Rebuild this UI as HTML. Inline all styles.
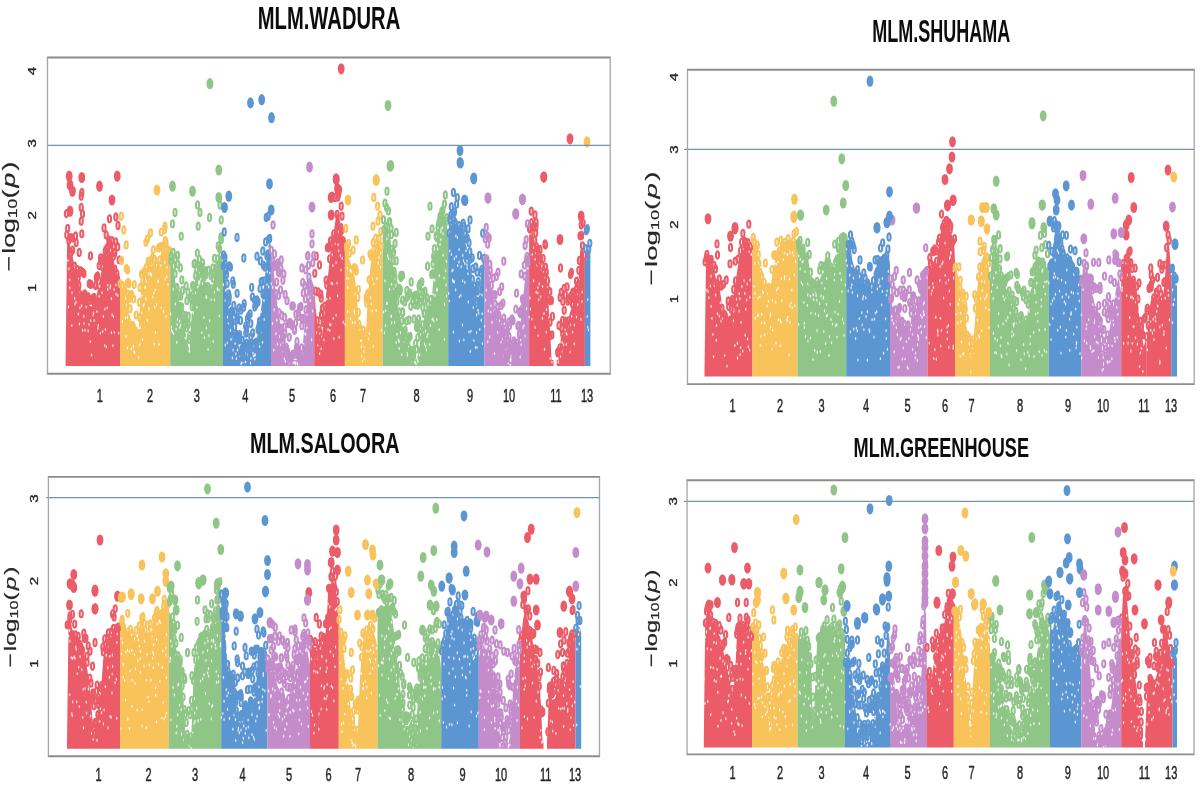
<!DOCTYPE html><html><head><meta charset="utf-8"><style>html,body{margin:0;padding:0;background:#fff;width:1200px;height:789px;overflow:hidden}svg{display:block;filter:blur(0.4px)}text{font-family:"Liberation Sans",sans-serif}</style></head><body>
<svg width="1200" height="789" viewBox="0 0 1200 789">
<defs><marker id="mr" markerUnits="userSpaceOnUse" markerWidth="12" markerHeight="14" refX="6" refY="7" overflow="visible"><ellipse cx="6" cy="7" rx="1.55" ry="3.60" fill="none" stroke="#eb5c68" stroke-width="2.1"/></marker><marker id="my" markerUnits="userSpaceOnUse" markerWidth="12" markerHeight="14" refX="6" refY="7" overflow="visible"><ellipse cx="6" cy="7" rx="1.55" ry="3.60" fill="none" stroke="#f7c35a" stroke-width="2.1"/></marker><marker id="mg" markerUnits="userSpaceOnUse" markerWidth="12" markerHeight="14" refX="6" refY="7" overflow="visible"><ellipse cx="6" cy="7" rx="1.55" ry="3.60" fill="none" stroke="#8fc687" stroke-width="2.1"/></marker><marker id="mb" markerUnits="userSpaceOnUse" markerWidth="12" markerHeight="14" refX="6" refY="7" overflow="visible"><ellipse cx="6" cy="7" rx="1.55" ry="3.60" fill="none" stroke="#5c96d2" stroke-width="2.1"/></marker><marker id="mp" markerUnits="userSpaceOnUse" markerWidth="12" markerHeight="14" refX="6" refY="7" overflow="visible"><ellipse cx="6" cy="7" rx="1.55" ry="3.60" fill="none" stroke="#c48ccb" stroke-width="2.1"/></marker><marker id="mw" markerUnits="userSpaceOnUse" markerWidth="4" markerHeight="6" refX="2" refY="3" overflow="visible"><ellipse cx="2" cy="3" rx="0.65" ry="1.6" fill="#fff" fill-opacity="0.85"/></marker></defs>
<path d="M65.6,366.0 L65.6,360.0 L67.1,241.5 L68.6,242.6 L70.1,245.0 L71.6,251.8 L73.1,258.8 L74.6,265.8 L76.1,273.0 L77.6,280.4 L79.1,285.5 L80.6,289.3 L82.1,293.1 L83.6,294.8 L85.1,296.1 L86.6,297.6 L88.1,301.6 L89.6,305.6 L91.1,308.3 L92.6,306.9 L94.1,305.5 L95.6,300.9 L97.1,293.1 L98.6,285.4 L100.1,278.0 L101.6,270.7 L103.1,265.0 L104.6,259.7 L106.1,256.2 L107.6,252.7 L109.1,250.3 L110.6,252.6 L112.1,254.9 L113.6,259.8 L115.1,268.6 L116.6,273.5 L118.1,274.7 L119.6,275.9 L120.0,276.2 L120.0,366.0 Z" fill="#eb5c68"/>
<path d="M120.0,366.0 L120.0,279.1 L121.5,284.7 L123.0,290.5 L124.5,296.9 L126.0,303.6 L127.5,309.5 L129.0,313.7 L130.5,318.0 L132.0,322.5 L133.5,327.0 L135.0,331.8 L136.5,338.6 L138.0,346.5 L139.5,316.3 L141.0,289.1 L142.5,281.6 L144.0,275.0 L145.5,271.4 L147.0,267.8 L148.5,264.7 L150.0,262.4 L151.5,260.0 L153.0,262.0 L154.5,266.8 L156.0,271.5 L157.5,267.9 L159.0,262.5 L160.5,255.6 L162.0,249.1 L163.5,245.7 L165.0,244.9 L166.5,251.7 L168.0,256.6 L169.5,258.3 L170.2,259.1 L170.2,366.0 Z" fill="#f7c35a"/>
<path d="M170.2,366.0 L170.2,257.7 L171.7,263.1 L173.2,268.9 L174.7,278.1 L176.2,287.0 L177.7,294.8 L179.2,301.7 L180.7,307.2 L182.2,312.9 L183.7,320.6 L185.2,329.9 L186.7,339.9 L188.2,346.0 L189.7,351.6 L191.2,321.7 L192.7,297.9 L194.2,286.2 L195.7,275.9 L197.2,268.6 L198.7,265.3 L200.2,267.7 L201.7,270.1 L203.2,274.1 L204.7,279.0 L206.2,284.0 L207.7,287.0 L209.2,289.6 L210.7,291.8 L212.2,286.7 L213.7,281.6 L215.2,275.5 L216.7,266.4 L218.2,256.8 L219.7,246.4 L221.2,249.0 L222.7,263.0 L223.1,267.7 L223.1,366.0 Z" fill="#8fc687"/>
<path d="M223.0,366.0 L223.0,270.2 L224.5,270.2 L226.0,282.5 L227.5,301.0 L229.0,310.3 L230.5,317.9 L232.0,325.7 L233.5,330.7 L235.0,335.8 L236.5,340.6 L238.0,344.3 L239.5,348.0 L241.0,351.9 L242.5,354.4 L244.0,356.4 L245.5,355.7 L247.0,353.7 L248.5,350.4 L250.0,350.0 L251.5,350.0 L253.0,349.6 L254.5,345.8 L256.0,342.1 L257.5,335.8 L259.0,324.0 L260.5,313.1 L262.0,302.4 L263.5,291.9 L265.0,276.5 L266.5,259.4 L268.0,248.9 L269.5,239.9 L271.0,246.2 L271.0,366.0 Z" fill="#5c96d2"/>
<path d="M271.0,366.0 L271.0,250.4 L272.5,261.5 L274.0,273.2 L275.5,287.0 L277.0,300.4 L278.5,311.5 L280.0,321.1 L281.5,328.4 L283.0,339.1 L284.5,352.1 L286.0,355.7 L287.5,357.7 L289.0,359.7 L290.5,360.0 L292.0,360.0 L293.5,360.0 L295.0,360.0 L296.5,360.0 L298.0,359.2 L299.5,357.2 L301.0,355.2 L302.5,347.9 L304.0,331.7 L305.5,317.1 L307.0,303.6 L308.5,290.9 L310.0,289.7 L311.5,289.9 L313.0,294.0 L314.2,297.4 L314.2,366.0 Z" fill="#c48ccb"/>
<path d="M314.2,366.0 L314.2,288.1 L315.7,307.7 L317.2,327.6 L318.7,337.2 L320.2,343.1 L321.7,337.9 L323.2,327.0 L324.7,309.6 L326.2,293.7 L327.7,278.7 L329.2,264.4 L330.7,250.6 L332.2,241.3 L333.7,233.0 L335.2,221.5 L336.7,211.9 L338.2,215.2 L339.7,219.7 L341.2,228.0 L342.7,234.9 L344.2,239.9 L344.9,242.2 L344.9,366.0 Z" fill="#eb5c68"/>
<path d="M344.9,366.0 L344.9,240.6 L346.4,249.0 L347.9,256.8 L349.4,260.2 L350.9,263.7 L352.4,267.1 L353.9,272.9 L355.4,281.8 L356.9,296.4 L358.4,316.5 L359.9,335.9 L361.4,357.3 L362.9,360.0 L364.4,360.0 L365.9,333.8 L367.4,304.4 L368.9,283.6 L370.4,266.8 L371.9,258.2 L373.4,251.0 L374.9,246.0 L376.4,242.8 L377.9,241.1 L379.4,243.7 L380.9,248.2 L382.4,252.7 L382.6,253.1 L382.6,366.0 Z" fill="#f7c35a"/>
<path d="M382.6,366.0 L382.6,235.9 L384.1,230.7 L385.6,226.3 L387.1,227.5 L388.6,228.7 L390.1,234.9 L391.6,251.0 L393.1,266.7 L394.6,282.2 L396.1,294.5 L397.6,305.1 L399.1,312.2 L400.6,318.4 L402.1,324.7 L403.6,329.6 L405.1,334.7 L406.6,340.4 L408.1,347.7 L409.6,354.7 L411.1,357.8 L412.6,359.7 L414.1,360.0 L415.6,360.0 L417.1,358.1 L418.6,352.2 L420.1,340.9 L421.6,330.5 L423.1,326.4 L424.6,323.2 L426.1,320.0 L427.6,316.9 L429.1,313.9 L430.6,307.7 L432.1,294.8 L433.6,279.1 L435.1,260.1 L436.6,244.0 L438.1,229.9 L439.6,221.2 L441.1,214.3 L442.6,214.4 L444.1,215.6 L445.6,217.4 L447.1,227.8 L448.2,235.9 L448.2,366.0 Z" fill="#8fc687"/>
<path d="M448.2,366.0 L448.2,237.7 L449.7,230.7 L451.2,224.7 L452.7,224.1 L454.2,223.6 L455.7,223.8 L457.2,225.5 L458.7,227.2 L460.2,229.9 L461.7,233.4 L463.2,236.9 L464.7,241.3 L466.2,246.0 L467.7,250.8 L469.2,258.0 L470.7,265.9 L472.2,277.2 L473.7,289.1 L475.2,301.4 L476.7,307.3 L478.2,303.0 L479.7,290.8 L481.2,273.2 L482.7,262.8 L484.2,255.4 L484.5,254.2 L484.5,366.0 Z" fill="#5c96d2"/>
<path d="M484.5,366.0 L484.5,250.7 L486.0,256.1 L487.5,262.4 L489.0,273.6 L490.5,284.1 L492.0,292.2 L493.5,300.5 L495.0,307.6 L496.5,313.5 L498.0,319.6 L499.5,326.0 L501.0,332.6 L502.5,339.5 L504.0,345.1 L505.5,350.7 L507.0,356.4 L508.5,359.3 L510.0,360.0 L511.5,360.0 L513.0,360.0 L514.5,357.7 L516.0,351.5 L517.5,344.0 L519.0,336.9 L520.5,322.7 L522.0,307.5 L523.5,293.5 L525.0,279.5 L526.5,267.1 L528.0,261.5 L529.1,257.4 L529.1,366.0 Z" fill="#c48ccb"/>
<path d="M529.1,366.0 L529.1,235.3 L530.6,231.9 L532.1,229.9 L533.6,236.7 L535.1,243.7 L536.6,250.7 L538.1,257.9 L539.6,265.1 L541.1,270.5 L542.6,274.2 L544.1,278.0 L545.6,281.8 L547.1,292.4 L548.6,304.8 L550.1,332.0 L551.6,360.0 L553.1,360.0 L553.6,360.0 L553.6,366.0 Z" fill="#eb5c68"/>
<path d="M556.7,366.0 L556.7,360.0 L558.2,360.0 L559.7,350.2 L561.2,335.9 L562.7,334.2 L564.2,332.5 L565.7,329.7 L567.2,323.4 L568.7,317.3 L570.2,312.1 L571.7,307.8 L573.2,303.6 L574.7,300.3 L576.2,297.6 L577.7,294.9 L579.2,268.0 L580.7,240.2 L582.2,247.1 L583.7,254.1 L584.9,259.6 L584.9,366.0 Z" fill="#eb5c68"/>
<path d="M584.9,366.0 L584.9,252.1 L586.4,250.4 L587.9,249.2 L589.4,250.9 L590.4,252.1 L590.4,366.0 Z" fill="#5c96d2"/>
<path d="M65.9 274.5 65.8 260.2 68.4 306.8 68.0 260.5 68.9 268.8 69.7 279.9 70.6 255.4 69.8 287.8 71.0 253.7 71.8 325.5 72.0 292.7 74.3 268.1 74.9 304.1 74.7 298.4 76.0 302.0 78.4 313.9 78.0 280.7 79.4 324.0 80.0 307.8 80.1 292.7 81.6 305.8 83.3 298.7 82.6 330.2 84.0 323.6 83.9 316.2 85.1 330.2 86.2 307.1 88.2 330.9 89.1 324.4 90.4 341.6 91.6 355.1 90.7 320.5 93.0 315.0 93.5 312.7 93.3 313.0 94.2 320.4 95.5 305.6 96.1 306.2 97.8 328.2 96.9 311.5 98.3 325.4 99.1 296.3 100.4 333.1 99.7 286.4 102.0 292.7 102.7 331.4 103.4 316.6 104.9 309.2 105.5 329.3 104.7 345.5 107.2 307.8 106.3 346.9 107.8 285.1 108.0 252.9 107.7 289.2 110.5 285.8 110.1 287.8 111.4 298.6 111.4 332.7 112.1 314.9 113.3 316.5 112.9 345.7 114.1 289.6 114.4 332.5 116.1 294.2 115.9 284.9 117.8 295.4 118.7 333.2 122.4 321.3 123.1 291.5 124.6 301.0 126.0 336.5 125.4 318.0 127.3 347.8 127.4 317.7 130.6 316.7 131.4 348.8 133.8 351.5 133.5 346.4 134.5 352.7 135.1 341.8 136.4 344.2 138.7 357.2 139.8 344.5 139.3 332.5 140.0 327.7 141.8 295.5 141.7 313.1 142.5 339.6 143.3 305.7 144.0 304.2 145.8 298.7 145.0 287.1 145.4 287.6 145.5 279.2 146.4 281.5 147.3 320.3 148.8 308.5 148.9 273.7 149.1 309.1 149.5 264.5 150.5 273.6 151.3 275.4 151.0 274.2 152.9 297.1 151.6 265.3 153.7 293.1 154.4 344.1 154.8 307.3 155.0 290.1 155.5 332.4 157.9 280.9 156.6 304.7 158.3 281.4 159.1 344.3 159.1 260.1 160.8 265.6 161.0 261.3 160.9 260.2 161.3 307.5 162.5 248.6 163.7 311.2 164.9 262.5 165.3 250.0 165.0 278.9 166.0 316.3 166.8 276.7 167.1 267.3 168.0 284.3 170.6 313.9 171.5 327.1 172.5 332.1 171.7 330.3 173.2 289.1 173.7 333.6 175.3 303.9 176.1 329.0 176.8 342.4 177.4 319.4 177.2 324.5 179.6 321.1 179.8 327.3 180.5 324.8 181.5 318.7 182.4 317.5 182.2 320.8 184.6 327.5 185.2 338.0 189.1 350.6 189.5 351.3 191.5 337.3 191.5 306.8 192.9 311.8 193.3 313.1 195.5 292.8 196.9 307.3 197.8 287.0 198.9 284.1 199.0 281.8 199.7 281.6 199.2 282.1 199.6 272.4 201.8 332.7 200.9 279.2 202.4 283.6 203.2 276.8 203.9 317.4 204.4 337.5 206.0 296.9 206.4 328.0 206.5 297.7 206.6 296.7 208.1 349.4 207.6 290.4 209.0 335.7 208.2 291.5 209.7 320.7 211.1 299.5 212.4 289.7 213.2 341.5 214.2 292.1 214.4 299.9 215.7 273.1 217.4 288.4 219.0 289.8 217.5 289.6 218.3 268.7 219.1 259.7 219.3 316.0 220.8 254.4 220.6 250.0 223.4 284.7 225.2 345.1 225.3 300.8 225.7 290.4 227.2 342.9 227.7 317.2 228.3 323.0 230.4 330.3 231.0 339.3 232.4 357.9 233.1 350.0 233.1 337.9 235.8 353.8 235.1 343.5 236.4 358.5 237.6 349.9 240.0 350.1 239.8 355.4 241.9 362.5 241.1 363.9 242.7 356.0 243.9 361.5 245.5 361.6 246.9 355.5 247.6 354.1 249.4 350.6 250.6 363.1 250.9 358.3 253.0 353.0 253.3 356.0 254.8 355.3 254.8 359.1 255.2 354.7 258.0 344.8 258.9 343.4 259.8 327.0 259.7 346.5 260.8 332.6 261.1 311.6 262.5 342.3 264.2 319.4 264.0 300.7 265.2 292.9 267.0 284.5 268.7 286.9 267.2 271.7 268.3 248.8 269.8 273.0 271.1 283.7 272.5 323.5 272.7 287.3 273.8 350.1 274.1 309.9 275.9 292.8 275.9 287.6 276.8 320.2 277.6 304.5 276.0 333.7 277.4 344.0 279.5 336.5 280.6 326.6 280.8 344.7 282.1 343.4 283.1 351.5 284.2 353.4 284.3 358.8 285.4 361.2 288.9 358.6 289.0 362.9 289.2 362.4 293.2 362.7 294.5 362.6 295.7 362.7 295.7 363.7 297.5 364.0 297.7 362.3 299.2 363.0 300.6 357.5 300.5 358.2 302.6 353.2 303.7 344.0 305.0 333.7 305.7 334.2 305.9 315.8 306.9 327.8 307.1 313.9 308.1 296.9 309.9 294.9 310.8 295.0 310.4 300.5 311.6 339.9 312.7 311.1 316.1 306.8 316.8 332.6 317.8 345.0 319.6 353.5 321.2 348.7 324.0 339.9 324.5 318.3 324.5 323.8 326.7 299.2 328.0 329.7 329.8 324.5 330.0 298.2 329.8 330.5 330.8 324.8 331.3 283.2 332.9 265.5 332.1 254.9 332.6 283.7 333.9 338.7 333.3 318.3 336.1 262.7 335.0 243.5 336.1 315.1 338.1 244.8 337.0 283.1 337.6 295.7 338.5 231.7 339.2 337.2 338.7 250.8 340.4 255.5 341.0 270.0 342.3 234.2 342.2 258.2 343.2 322.1 345.2 324.2 347.7 287.4 346.4 278.4 347.2 268.1 347.6 311.7 348.2 278.5 350.2 270.4 350.6 270.3 350.5 318.8 351.5 271.8 352.4 322.7 354.5 312.8 354.2 310.9 355.0 322.5 355.1 294.2 356.4 313.0 358.0 321.6 359.0 328.7 361.6 356.0 362.5 360.9 366.6 334.6 368.2 301.7 368.5 338.9 369.3 333.5 370.7 297.7 372.3 278.9 371.1 303.8 372.3 310.9 373.8 283.8 373.2 346.2 374.7 247.6 376.3 310.4 376.1 250.3 377.0 278.6 378.3 262.9 379.1 257.4 380.7 253.2 381.3 330.2 380.5 267.0 382.9 244.7 384.4 332.8 383.6 312.1 384.9 280.8 385.6 325.4 385.7 310.7 387.2 303.4 386.7 303.4 386.9 238.9 388.5 258.3 387.7 255.7 388.9 235.2 389.7 289.3 390.7 259.8 391.3 316.4 391.3 316.1 391.8 275.7 391.7 284.3 391.7 322.9 394.0 288.6 394.6 322.4 396.2 342.6 397.0 334.2 395.8 303.7 398.4 340.1 398.1 310.5 399.2 341.4 399.2 348.6 400.5 332.6 401.7 354.5 403.5 331.2 404.3 341.4 405.3 337.3 407.2 352.1 407.5 355.2 410.8 357.6 411.9 362.1 415.1 362.1 414.7 361.9 416.0 364.0 417.5 359.8 417.9 361.3 418.9 345.0 419.7 355.0 422.9 332.2 424.5 344.1 425.5 331.1 426.4 349.9 425.6 346.1 427.1 336.6 428.0 334.0 430.5 325.3 429.7 344.5 432.3 319.2 433.1 294.3 432.9 319.0 434.8 280.2 433.8 320.9 435.0 295.7 434.7 263.9 436.9 289.2 436.7 319.6 437.0 290.2 437.6 249.1 439.3 275.6 439.2 329.6 440.0 244.4 441.0 232.0 440.8 239.7 440.8 229.4 442.2 227.5 443.0 255.3 443.1 233.7 444.1 277.9 444.4 339.3 444.5 304.4 446.1 284.9 445.8 270.9 446.5 296.1 446.4 261.4 448.7 293.4 449.2 301.0 449.7 251.0 451.0 231.5 452.0 271.0 451.4 254.5 452.9 269.9 453.1 281.7 453.8 281.1 452.6 279.9 453.4 332.1 454.3 258.8 454.3 282.1 455.9 236.0 455.7 289.9 456.2 256.5 457.4 237.5 457.7 265.5 459.1 249.5 459.0 262.0 459.4 296.8 459.3 341.0 461.1 266.7 460.9 295.4 462.5 324.9 462.6 280.9 463.5 260.6 462.8 255.4 463.9 339.8 464.9 282.4 464.8 263.4 467.0 264.9 466.0 250.8 467.2 268.1 467.1 260.8 468.3 301.9 468.0 273.8 469.0 332.1 470.9 331.2 471.1 268.3 470.3 351.4 471.9 279.8 472.0 280.1 473.7 296.0 473.3 307.5 473.9 340.5 475.5 347.6 477.0 347.5 476.6 332.5 476.6 314.9 478.0 310.2 478.7 313.1 479.8 329.4 479.8 293.9 482.1 295.1 481.3 320.2 482.5 343.6 482.2 313.8 485.7 300.1 484.6 326.3 486.3 290.2 487.8 341.8 488.3 310.9 489.7 336.9 490.8 312.0 491.0 305.8 492.0 322.2 494.3 310.7 494.1 305.5 494.6 306.7 494.5 353.5 497.4 326.4 496.9 320.1 497.7 332.2 499.5 333.2 501.1 342.4 502.1 343.7 503.5 345.6 503.5 345.0 504.3 355.7 506.2 351.6 508.5 358.2 508.1 362.9 510.2 360.6 510.3 364.9 510.8 360.5 515.9 354.2 516.5 349.1 518.9 343.0 520.2 356.9 520.6 339.7 521.1 344.5 523.0 327.7 523.5 306.9 523.3 295.3 523.9 325.6 525.1 336.0 525.9 276.0 527.9 268.2 526.6 308.7 529.2 317.0 529.9 297.9 530.6 233.2 530.5 309.0 532.2 254.3 531.9 319.0 533.6 280.8 533.7 247.5 535.1 259.3 534.1 243.1 535.1 327.4 536.2 292.2 535.8 253.0 537.1 265.1 537.9 287.5 538.7 299.8 537.8 293.0 539.3 283.9 538.1 335.5 540.6 296.8 542.5 318.4 542.6 286.5 544.0 313.6 544.5 349.2 546.2 332.1 546.5 309.6 549.0 318.9 549.2 317.2 550.2 358.3 552.0 362.1 558.3 361.9 560.5 356.4 561.9 351.2 562.2 342.5 563.6 344.8 566.1 333.0 566.3 344.3 566.8 334.3 567.7 326.8 570.1 352.0 570.4 324.4 571.7 316.5 574.5 325.0 572.7 332.1 574.2 343.9 576.5 317.0 577.8 304.6 578.8 294.9 579.2 280.1 581.0 248.6 579.9 249.2 581.9 301.4 580.9 319.4 582.1 292.1 586.4 258.0 587.2 316.7 587.8 327.1 587.8 299.6 587.1 251.6 588.4 330.0" fill="none" stroke="none" marker-start="url(#mw)" marker-mid="url(#mw)" marker-end="url(#mw)"/>
<path d="M66.4 213.6 66.8 234.8 67.7 228.3 68.8 240.3 70.5 237.7 71.0 252.3 72.3 238.1 72.6 250.1 74.6 266.1 75.5 236.0 75.8 272.7 77.5 269.7 77.3 273.8 78.3 277.2 78.8 285.5 80.4 271.0 81.2 271.5 81.6 295.5 83.4 297.1 82.8 272.4 83.9 273.6 84.7 294.0 85.5 299.0 85.9 296.0 87.1 297.7 87.9 297.2 88.0 296.8 89.3 283.7 89.7 300.4 90.8 310.7 90.9 284.5 91.6 299.6 92.8 298.1 93.4 301.3 94.0 297.5 94.5 304.6 95.5 285.6 96.0 285.0 96.3 277.4 97.0 277.0 97.6 275.8 99.2 265.6 100.5 257.8 101.1 261.4 102.4 266.8 102.9 258.2 104.2 258.1 105.3 250.7 106.3 255.9 106.8 248.3 107.8 246.8 109.5 242.4 110.5 249.8 110.8 250.9 111.9 240.6 113.4 256.3 114.4 252.4 114.7 253.0 114.8 269.2 115.7 241.8 116.9 273.9 117.7 246.8 119.1 259.8 314.8 273.3 315.4 291.1 317.2 320.7 318.1 292.0 319.0 328.3 318.8 339.7 319.8 332.3 319.4 340.5 321.2 298.2 320.8 294.2 321.6 315.8 321.5 314.4 323.2 322.6 322.4 308.1 324.0 322.4 323.4 320.7 324.8 306.2 326.1 280.1 326.8 285.1 327.4 247.7 328.8 247.8 329.6 258.8 330.4 240.9 331.4 245.3 333.0 240.2 333.7 233.9 337.1 214.4 337.8 197.2 338.6 194.2 341.0 227.6 341.3 230.8 343.3 241.0 529.4 228.0 530.1 229.2 531.4 222.6 533.0 227.0 533.7 226.3 534.7 240.4 535.9 227.1 535.7 233.1 536.4 246.7 536.1 222.4 537.8 249.7 538.4 254.0 538.8 256.4 540.0 249.5 539.3 262.3 540.2 257.9 541.8 265.3 543.1 258.6 543.5 273.0 544.8 276.3 545.4 245.1 545.5 267.2 546.3 272.2 547.5 280.6 547.2 288.0 548.8 299.0 549.8 291.7 550.0 322.2 550.4 300.8 550.1 335.5 551.9 334.9 551.4 300.4 552.4 316.4 557.9 352.9 557.9 351.8 558.8 351.6 559.0 325.5 560.1 297.5 559.8 348.0 561.2 292.3 562.0 328.7 562.6 320.5 562.8 334.0 562.9 301.4 564.2 310.3 564.0 288.4 565.4 294.9 565.2 321.2 565.8 324.4 566.1 322.6 567.1 286.8 568.3 320.9 567.9 301.2 568.8 298.7 570.5 296.4 570.5 274.6 571.4 272.5 572.6 304.2 573.3 298.7 572.8 292.2 574.0 293.1 575.2 300.3 576.4 289.2 576.5 281.2 577.3 292.8 578.6 284.2 578.5 284.7 579.4 260.5 578.8 270.3 580.0 235.8 581.6 235.5 582.6 245.8 583.1 223.1 584.6 255.4 81.8 192.5 81.2 196.2 81.2 207.5 82.5 213.8 81.2 221.2 81.8 233.8 109.5 218.8 115.8 217.0 118.0 225.5 104.0 228.0 106.2 235.0 108.8 240.0 113.8 246.2 90.5 255.8 79.2 252.5 76.2 242.5 316.2 256.2 319.5 265.0 332.0 196.2 335.0 197.5 331.2 215.0 341.2 206.2 342.0 216.2 531.2 211.2 535.0 215.0 545.0 243.8 546.2 292.5 560.5 268.0 581.2 225.0" fill="none" stroke="none" marker-start="url(#mr)" marker-mid="url(#mr)" marker-end="url(#mr)"/>
<path d="M120.2 283.7 121.5 260.5 122.4 285.6 123.1 292.0 124.7 292.0 125.0 291.1 125.8 297.9 126.6 305.5 126.4 268.3 127.8 294.1 127.5 282.9 128.9 283.7 128.1 282.4 129.2 298.6 130.0 308.7 130.2 296.2 131.5 294.5 132.9 326.9 132.9 325.4 133.6 328.6 133.7 298.8 134.2 284.6 135.5 331.0 136.2 314.9 136.2 341.2 137.6 338.2 137.6 333.6 138.1 339.0 139.9 317.7 139.4 302.3 140.1 287.5 141.5 274.1 142.9 280.4 143.6 272.7 144.5 271.1 145.9 242.3 146.2 267.6 147.4 238.9 148.2 261.1 149.2 263.5 150.5 233.0 151.3 260.3 152.3 258.0 153.3 249.9 154.6 259.3 155.5 270.4 156.5 266.2 157.7 270.5 158.4 247.9 159.8 259.8 160.4 246.6 161.3 232.1 162.2 247.9 163.1 245.8 164.6 229.5 165.3 240.7 166.0 243.1 167.4 253.5 168.1 250.2 169.6 250.8 345.8 228.5 346.5 246.1 347.1 248.5 348.5 243.5 349.3 253.4 353.1 250.1 354.1 267.7 355.5 268.5 356.3 271.1 357.8 297.4 358.3 289.6 358.3 312.4 359.8 328.8 359.0 324.7 360.6 335.2 361.3 346.5 361.8 355.9 362.1 334.5 363.9 352.1 363.4 330.2 364.5 340.7 365.9 337.2 365.9 342.7 366.1 297.9 366.7 303.3 367.8 299.3 367.1 295.5 368.0 293.1 369.2 279.6 370.1 254.0 371.2 256.2 372.9 257.4 373.2 242.5 374.1 249.8 375.7 238.1 378.0 221.2 379.1 238.5 380.8 231.3 381.1 246.6 121.2 216.2 123.8 230.0 126.2 245.0 127.5 270.0 165.0 226.2 356.2 240.0 362.5 260.0 373.8 197.5 377.5 206.2 380.0 215.0 373.0 226.2" fill="none" stroke="none" marker-start="url(#my)" marker-mid="url(#my)" marker-end="url(#my)"/>
<path d="M170.9 261.2 171.2 256.5 173.1 252.3 173.6 266.2 175.0 274.0 175.3 259.0 176.8 287.3 176.9 288.3 177.8 264.1 177.5 255.4 178.8 295.9 179.5 306.1 180.3 267.9 180.8 296.2 181.8 279.9 181.7 306.8 182.4 290.6 183.1 314.8 184.1 322.3 183.4 319.0 184.3 325.3 185.7 315.7 186.1 285.9 186.6 327.7 186.9 300.7 188.0 292.1 188.1 323.3 188.3 316.2 188.2 324.7 189.7 335.5 189.3 339.5 191.1 298.9 190.8 297.9 192.1 306.5 192.7 295.2 192.6 285.4 194.1 263.8 193.3 286.3 194.8 263.5 195.6 275.8 196.6 269.7 197.3 253.1 198.9 265.6 199.4 259.4 200.8 266.4 201.7 270.1 202.5 262.9 203.9 277.2 204.6 271.2 205.7 274.9 205.7 271.0 206.2 286.9 208.0 286.6 208.3 270.2 209.3 290.5 211.1 294.0 211.0 275.5 211.2 288.8 212.8 267.9 213.3 278.4 213.2 273.4 214.5 258.3 215.8 270.0 216.6 267.4 217.5 258.8 218.2 245.8 219.6 248.9 220.8 236.9 221.3 239.5 383.5 219.7 384.1 229.3 384.9 203.2 385.9 226.7 386.6 207.6 388.4 211.0 389.1 221.9 389.7 221.6 391.4 234.6 391.0 228.3 391.8 249.3 393.5 252.2 393.0 260.7 393.7 274.0 394.1 271.3 394.9 277.5 395.0 243.4 396.2 260.9 395.9 285.7 396.9 301.7 397.4 291.2 398.0 294.1 398.1 289.7 399.0 312.0 399.3 288.5 400.0 291.2 400.1 289.3 400.8 275.5 400.9 277.6 402.5 300.2 401.8 320.8 402.6 312.5 402.6 311.9 404.1 333.2 404.0 333.9 404.8 301.9 405.1 330.5 406.4 321.1 405.6 338.2 406.9 290.4 407.2 297.3 408.3 295.3 408.4 338.9 408.3 347.7 409.0 320.0 409.0 337.0 410.1 336.4 409.7 293.2 410.4 350.6 410.8 306.3 411.0 356.6 411.1 360.1 411.7 353.3 412.6 350.4 412.4 352.5 412.8 301.1 413.3 357.1 414.0 318.9 413.7 355.6 415.3 304.8 415.4 295.3 415.6 343.4 416.6 349.1 416.4 327.3 417.2 294.9 417.3 323.5 416.7 299.7 417.8 337.6 417.7 305.3 417.6 328.0 419.1 286.3 418.6 319.0 420.3 328.5 420.1 301.8 420.0 290.7 421.0 297.8 420.8 334.1 421.8 281.9 422.4 324.9 422.9 307.6 422.9 292.7 424.4 313.4 424.2 313.3 425.0 291.2 424.8 300.3 426.5 320.9 426.1 322.2 426.9 298.0 427.4 320.0 428.0 303.7 428.4 311.6 429.2 315.6 429.2 312.7 430.0 310.2 429.8 310.9 430.8 299.5 431.7 274.5 433.5 273.4 433.1 263.9 434.3 248.6 433.6 256.3 434.6 258.7 436.2 235.7 436.6 237.3 438.0 227.2 438.9 222.6 440.0 216.3 439.7 220.1 440.8 215.3 441.8 211.2 442.9 210.3 444.4 204.0 445.3 195.0 446.5 217.7 447.0 221.1 175.0 212.5 172.5 223.8 181.2 236.2 197.5 205.0 200.0 212.5 198.2 226.2 209.5 217.5 220.0 205.0 221.2 220.0 387.0 191.2 396.2 232.5 430.0 206.2 432.0 228.8 428.0 236.2 427.5 266.2 402.5 275.5 411.2 282.0 420.0 283.8 413.8 296.2" fill="none" stroke="none" marker-start="url(#mg)" marker-mid="url(#mg)" marker-end="url(#mg)"/>
<path d="M223.6 254.9 223.3 265.8 224.2 232.0 224.9 257.3 225.1 264.0 225.5 270.1 226.3 273.9 226.2 274.7 228.0 302.5 227.1 283.6 228.6 294.0 228.9 301.3 229.2 297.0 229.2 265.9 230.6 319.4 230.4 267.1 231.5 321.5 231.3 311.2 232.8 280.9 232.8 312.2 233.3 284.3 233.8 305.4 234.8 336.1 234.6 326.8 235.2 312.0 235.5 336.1 236.6 334.5 236.7 320.0 237.4 317.3 238.0 340.0 237.1 293.3 238.5 337.0 239.0 340.1 238.7 336.3 239.7 334.7 239.1 307.9 240.0 339.1 240.9 310.2 240.4 320.5 242.0 348.6 241.1 352.1 242.3 340.4 242.8 352.2 243.0 348.4 243.5 357.5 243.6 307.3 244.4 344.6 244.2 303.6 245.4 347.7 246.0 333.2 245.7 326.1 246.5 328.6 246.2 332.5 246.6 343.2 248.0 355.2 247.4 318.8 247.6 348.0 248.8 344.9 248.5 316.1 249.9 349.1 249.7 345.9 250.8 323.6 250.1 313.8 250.8 336.9 251.5 343.0 251.7 287.3 252.6 333.0 252.4 296.9 253.4 344.5 253.6 345.6 254.7 307.0 254.5 300.1 256.0 342.1 256.0 304.5 256.9 299.9 257.0 342.4 258.0 302.0 258.0 329.2 258.8 330.4 259.0 325.5 259.5 321.2 259.6 322.3 260.4 261.0 260.1 288.4 261.2 281.6 261.9 281.5 263.0 294.3 262.8 251.0 263.4 265.2 263.9 293.1 264.1 280.9 265.0 267.1 265.6 242.0 266.9 256.1 267.9 253.8 268.2 216.2 268.7 239.1 269.7 238.5 449.2 233.0 450.1 220.1 450.8 215.3 451.3 206.7 451.4 225.5 452.9 214.2 453.4 192.5 453.6 220.0 454.5 212.0 455.2 222.7 456.6 204.2 457.3 197.6 459.0 225.6 459.5 230.3 460.5 228.8 461.8 235.2 463.1 223.1 463.8 226.2 465.1 234.3 466.1 238.8 467.2 237.9 468.1 228.7 469.0 242.7 469.8 251.7 470.3 259.3 472.2 257.8 473.0 268.7 472.3 279.4 473.8 290.8 474.3 298.8 474.4 286.5 476.1 290.3 475.7 267.0 477.1 272.2 476.6 301.1 477.3 291.2 477.3 285.7 479.0 301.2 478.2 281.6 479.5 255.4 480.7 272.5 481.8 269.3 482.7 233.2 483.7 258.3 585.8 248.6 586.3 230.7 587.3 228.7 588.7 249.1 589.8 243.3 237.0 237.5 243.8 258.0 257.0 256.2 266.2 217.5 470.0 220.0" fill="none" stroke="none" marker-start="url(#mb)" marker-mid="url(#mb)" marker-end="url(#mb)"/>
<path d="M271.4 250.3 272.9 261.5 273.1 265.2 274.3 266.5 274.4 253.9 275.9 266.0 276.7 282.1 276.0 293.7 277.6 262.9 277.4 265.7 278.4 271.9 278.6 295.6 279.3 272.9 279.0 312.6 280.9 268.5 280.5 289.9 281.8 315.5 281.8 329.0 281.0 328.3 282.9 280.3 282.7 337.6 283.1 337.2 283.1 342.1 284.7 317.4 284.4 326.9 284.8 333.6 285.3 352.5 285.1 294.5 286.1 349.9 286.0 350.3 286.3 347.3 287.7 351.8 287.0 300.7 288.5 358.8 288.5 323.7 288.2 355.5 289.4 359.2 289.3 337.3 289.9 322.4 290.7 323.5 290.4 359.2 291.9 306.0 291.3 356.8 292.1 325.4 292.7 355.3 292.7 354.4 293.3 306.1 293.0 354.4 294.3 329.3 294.6 330.3 295.9 314.3 295.4 353.0 295.6 323.1 296.5 354.3 296.4 347.6 297.0 341.6 297.9 349.4 298.3 312.9 298.9 316.4 298.3 351.6 299.5 307.5 299.8 359.4 299.1 358.0 300.8 355.8 300.9 306.4 301.5 347.8 301.9 325.7 302.1 318.3 302.7 282.4 303.3 292.9 303.9 318.5 304.8 285.6 304.6 319.3 305.4 298.9 305.7 269.9 306.0 309.7 306.4 291.5 307.8 255.8 307.7 255.7 308.9 277.1 308.5 265.2 309.6 282.8 309.1 284.5 310.1 284.4 310.9 292.0 311.5 288.0 312.8 262.8 313.7 255.5 485.2 238.7 486.0 258.9 486.9 259.2 487.4 236.2 487.7 244.2 489.3 275.3 489.2 238.1 490.2 270.4 489.8 264.3 491.3 285.4 492.2 294.4 493.2 278.1 494.2 294.9 495.0 294.9 495.0 303.9 496.0 314.2 496.3 276.4 496.5 317.4 497.2 312.3 498.0 272.1 497.8 307.0 498.8 315.1 498.7 326.5 499.6 320.7 499.6 291.5 500.6 329.3 501.1 305.5 501.7 286.8 501.7 333.3 501.6 332.2 503.1 333.4 502.9 303.1 503.8 318.1 503.7 345.3 504.3 322.8 505.4 344.3 505.4 337.7 505.3 329.4 505.9 334.8 506.2 354.1 507.2 331.8 507.0 358.5 507.5 340.5 508.2 355.3 508.2 346.8 509.0 336.6 509.0 322.0 509.7 344.2 509.5 325.7 510.8 345.1 510.9 349.4 512.0 318.8 511.7 320.2 513.0 347.7 513.0 320.8 512.7 350.7 513.8 357.0 514.0 343.5 513.8 340.8 515.2 348.0 515.0 357.2 515.0 354.1 515.8 309.1 515.9 346.5 516.7 345.9 516.5 293.2 517.7 343.0 517.9 326.0 519.4 334.5 518.9 325.6 519.8 311.5 520.1 313.2 520.8 313.7 521.2 273.9 522.5 308.5 523.4 300.5 522.5 298.7 524.4 265.1 525.1 245.5 525.0 276.2 526.2 239.6 526.6 259.8 527.1 256.3 527.7 260.2 527.9 262.3 312.0 233.8 312.0 243.8 273.0 225.0 281.2 260.0 301.8 268.0 283.8 273.8 503.8 261.2 486.2 227.5 527.5 223.8" fill="none" stroke="none" marker-start="url(#mp)" marker-mid="url(#mp)" marker-end="url(#mp)"/>
<ellipse cx="69.2" cy="176.2" rx="3.40" ry="5.60" fill="#eb5c68"/>
<ellipse cx="70.0" cy="185.0" rx="3.40" ry="5.60" fill="#eb5c68"/>
<ellipse cx="72.5" cy="191.2" rx="3.40" ry="5.60" fill="#eb5c68"/>
<ellipse cx="81.8" cy="177.5" rx="3.40" ry="5.60" fill="#eb5c68"/>
<ellipse cx="70.0" cy="211.2" rx="3.40" ry="5.60" fill="#eb5c68"/>
<ellipse cx="99.5" cy="186.2" rx="3.40" ry="5.60" fill="#eb5c68"/>
<ellipse cx="112.0" cy="200.0" rx="3.40" ry="5.60" fill="#eb5c68"/>
<ellipse cx="117.2" cy="176.2" rx="3.40" ry="5.60" fill="#eb5c68"/>
<ellipse cx="336.2" cy="178.8" rx="3.40" ry="5.60" fill="#eb5c68"/>
<ellipse cx="338.8" cy="190.0" rx="3.40" ry="5.60" fill="#eb5c68"/>
<ellipse cx="331.2" cy="197.5" rx="3.40" ry="5.60" fill="#eb5c68"/>
<ellipse cx="331.2" cy="215.0" rx="3.40" ry="5.60" fill="#eb5c68"/>
<ellipse cx="157.0" cy="190.0" rx="3.40" ry="5.60" fill="#f7c35a"/>
<ellipse cx="172.5" cy="186.2" rx="3.40" ry="5.60" fill="#8fc687"/>
<ellipse cx="192.5" cy="191.2" rx="3.40" ry="5.60" fill="#8fc687"/>
<ellipse cx="218.8" cy="170.0" rx="3.40" ry="5.60" fill="#8fc687"/>
<ellipse cx="218.8" cy="197.5" rx="3.40" ry="5.60" fill="#8fc687"/>
<ellipse cx="228.8" cy="196.2" rx="3.40" ry="5.60" fill="#5c96d2"/>
<ellipse cx="224.5" cy="207.5" rx="3.40" ry="5.60" fill="#5c96d2"/>
<ellipse cx="269.5" cy="183.8" rx="3.40" ry="5.60" fill="#5c96d2"/>
<ellipse cx="271.2" cy="210.0" rx="3.40" ry="5.60" fill="#5c96d2"/>
<ellipse cx="309.5" cy="167.0" rx="3.40" ry="5.60" fill="#c48ccb"/>
<ellipse cx="312.0" cy="207.0" rx="3.40" ry="5.60" fill="#c48ccb"/>
<ellipse cx="336.2" cy="179.5" rx="3.40" ry="5.60" fill="#eb5c68"/>
<ellipse cx="337.5" cy="188.8" rx="3.40" ry="5.60" fill="#eb5c68"/>
<ellipse cx="348.0" cy="200.0" rx="3.40" ry="5.60" fill="#f7c35a"/>
<ellipse cx="376.2" cy="179.5" rx="3.40" ry="5.60" fill="#f7c35a"/>
<ellipse cx="390.8" cy="165.5" rx="3.40" ry="5.60" fill="#8fc687"/>
<ellipse cx="460.5" cy="163.0" rx="3.40" ry="5.60" fill="#5c96d2"/>
<ellipse cx="473.8" cy="178.0" rx="3.40" ry="5.60" fill="#5c96d2"/>
<ellipse cx="464.5" cy="200.0" rx="3.40" ry="5.60" fill="#5c96d2"/>
<ellipse cx="488.0" cy="198.0" rx="3.40" ry="5.60" fill="#c48ccb"/>
<ellipse cx="522.5" cy="199.2" rx="3.40" ry="5.60" fill="#c48ccb"/>
<ellipse cx="515.8" cy="213.8" rx="3.40" ry="5.60" fill="#c48ccb"/>
<ellipse cx="543.8" cy="177.0" rx="3.40" ry="5.60" fill="#eb5c68"/>
<ellipse cx="560.0" cy="239.5" rx="3.40" ry="5.60" fill="#eb5c68"/>
<ellipse cx="581.2" cy="216.2" rx="3.40" ry="5.60" fill="#eb5c68"/>
<ellipse cx="209.9" cy="83.7" rx="3.40" ry="5.60" fill="#8fc687"/>
<ellipse cx="388.0" cy="105.5" rx="3.40" ry="5.60" fill="#8fc687"/>
<ellipse cx="390.0" cy="166.2" rx="3.40" ry="5.60" fill="#8fc687"/>
<ellipse cx="250.5" cy="102.9" rx="3.40" ry="5.60" fill="#5c96d2"/>
<ellipse cx="261.7" cy="99.7" rx="3.40" ry="5.60" fill="#5c96d2"/>
<ellipse cx="271.5" cy="117.7" rx="3.40" ry="5.60" fill="#5c96d2"/>
<ellipse cx="460.0" cy="150.5" rx="3.40" ry="5.60" fill="#5c96d2"/>
<ellipse cx="460.0" cy="162.5" rx="3.40" ry="5.60" fill="#5c96d2"/>
<ellipse cx="473.8" cy="178.8" rx="3.40" ry="5.60" fill="#5c96d2"/>
<ellipse cx="465.0" cy="200.5" rx="3.40" ry="5.60" fill="#5c96d2"/>
<ellipse cx="341.2" cy="68.8" rx="3.40" ry="5.60" fill="#eb5c68"/>
<ellipse cx="570.0" cy="138.8" rx="3.40" ry="5.60" fill="#eb5c68"/>
<ellipse cx="543.8" cy="177.0" rx="3.40" ry="5.60" fill="#eb5c68"/>
<ellipse cx="587.0" cy="141.8" rx="3.40" ry="5.60" fill="#f7c35a"/>
<ellipse cx="376.2" cy="180.5" rx="3.40" ry="5.60" fill="#f7c35a"/>
<ellipse cx="488.0" cy="198.0" rx="3.40" ry="5.60" fill="#c48ccb"/>
<ellipse cx="522.5" cy="199.5" rx="3.40" ry="5.60" fill="#c48ccb"/>
<ellipse cx="515.8" cy="214.0" rx="3.40" ry="5.60" fill="#c48ccb"/>
<line x1="47.5" y1="145.40" x2="610.2" y2="145.40" stroke="#7092b5" stroke-width="1.3"/>
<path d="M46.90 57.50H610.85M46.90 373.75H610.85" stroke="#8c8c8c" stroke-width="1.80" fill="none"/>
<path d="M47.50 57.50V373.75M610.25 57.50V373.75" stroke="#a6a6a6" stroke-width="1.30" fill="none"/>
<text x="329.0" y="29.4" font-size="32.0" font-weight="bold" text-anchor="middle" textLength="142.5" lengthAdjust="spacingAndGlyphs" fill="#0d0d0d">MLM.WADURA</text>
<text transform="translate(99.8,401.5) scale(0.630,1)" font-size="17.5" text-anchor="middle" fill="#262626" stroke="#262626" stroke-width="0.45">1</text>
<text transform="translate(150.0,401.5) scale(0.630,1)" font-size="17.5" text-anchor="middle" fill="#262626" stroke="#262626" stroke-width="0.45">2</text>
<text transform="translate(196.7,401.5) scale(0.630,1)" font-size="17.5" text-anchor="middle" fill="#262626" stroke="#262626" stroke-width="0.45">3</text>
<text transform="translate(245.3,401.5) scale(0.630,1)" font-size="17.5" text-anchor="middle" fill="#262626" stroke="#262626" stroke-width="0.45">4</text>
<text transform="translate(292.0,401.5) scale(0.630,1)" font-size="17.5" text-anchor="middle" fill="#262626" stroke="#262626" stroke-width="0.45">5</text>
<text transform="translate(333.0,401.5) scale(0.630,1)" font-size="17.5" text-anchor="middle" fill="#262626" stroke="#262626" stroke-width="0.45">6</text>
<text transform="translate(363.0,401.5) scale(0.630,1)" font-size="17.5" text-anchor="middle" fill="#262626" stroke="#262626" stroke-width="0.45">7</text>
<text transform="translate(416.6,401.5) scale(0.630,1)" font-size="17.5" text-anchor="middle" fill="#262626" stroke="#262626" stroke-width="0.45">8</text>
<text transform="translate(470.0,401.5) scale(0.630,1)" font-size="17.5" text-anchor="middle" fill="#262626" stroke="#262626" stroke-width="0.45">9</text>
<text transform="translate(509.0,401.5) scale(0.630,1)" font-size="17.5" text-anchor="middle" fill="#262626" stroke="#262626" stroke-width="0.45">10</text>
<text transform="translate(556.0,401.5) scale(0.630,1)" font-size="17.5" text-anchor="middle" fill="#262626" stroke="#262626" stroke-width="0.45">11</text>
<text transform="translate(587.0,401.5) scale(0.630,1)" font-size="17.5" text-anchor="middle" fill="#262626" stroke="#262626" stroke-width="0.45">13</text>
<text transform="translate(36.0,71.0) scale(0.750,1) rotate(-90)" font-size="15.0" text-anchor="middle" fill="#262626" stroke="#262626" stroke-width="0.45">4</text>
<text transform="translate(36.0,143.4) scale(0.750,1) rotate(-90)" font-size="15.0" text-anchor="middle" fill="#262626" stroke="#262626" stroke-width="0.45">3</text>
<text transform="translate(36.0,215.4) scale(0.750,1) rotate(-90)" font-size="15.0" text-anchor="middle" fill="#262626" stroke="#262626" stroke-width="0.45">2</text>
<text transform="translate(36.0,287.9) scale(0.750,1) rotate(-90)" font-size="15.0" text-anchor="middle" fill="#262626" stroke="#262626" stroke-width="0.45">1</text>
<text transform="translate(14.6,216.5) scale(0.680,1) rotate(-90)" font-size="26.6" text-anchor="middle" fill="#262626" stroke="#262626" stroke-width="0.3">− log<tspan font-size="17.6" dy="3.2">10</tspan><tspan dy="-3.2">( </tspan><tspan font-style="italic">p</tspan> )</text>
<path d="M704.5,376.5 L704.5,370.5 L706.0,260.4 L707.5,257.6 L709.0,258.2 L710.5,258.7 L712.0,261.9 L713.5,267.9 L715.0,274.6 L716.5,280.9 L718.0,284.5 L719.5,288.0 L721.0,297.6 L722.5,310.8 L724.0,316.7 L725.5,321.2 L727.0,322.5 L728.5,323.9 L730.0,317.4 L731.5,309.5 L733.0,300.7 L734.5,289.8 L736.0,279.2 L737.5,268.9 L739.0,260.4 L740.5,254.1 L742.0,251.9 L743.5,249.7 L745.0,247.5 L746.5,245.3 L748.0,244.3 L749.5,245.6 L751.0,247.9 L752.5,252.0 L752.5,376.5 Z" fill="#eb5c68"/>
<path d="M752.5,376.5 L752.5,245.4 L754.0,243.0 L755.5,243.8 L757.0,251.0 L758.5,262.1 L760.0,275.2 L761.5,278.6 L763.0,281.9 L764.5,285.9 L766.0,290.5 L767.5,295.1 L769.0,290.5 L770.5,285.9 L772.0,277.7 L773.5,266.1 L775.0,261.5 L776.5,258.3 L778.0,254.5 L779.5,249.6 L781.0,247.3 L782.5,246.2 L784.0,245.4 L785.5,245.4 L787.0,245.4 L788.5,244.6 L790.0,243.6 L791.5,242.5 L793.0,241.4 L794.5,240.4 L796.0,241.1 L797.5,242.7 L797.5,376.5 Z" fill="#f7c35a"/>
<path d="M797.5,376.5 L797.5,246.9 L799.0,246.9 L800.5,246.9 L802.0,247.4 L803.5,248.5 L805.0,249.6 L806.5,253.9 L808.0,258.3 L809.5,267.9 L811.0,283.2 L812.5,288.6 L814.0,291.4 L815.5,290.2 L817.0,289.0 L818.5,284.8 L820.0,279.1 L821.5,274.2 L823.0,273.1 L824.5,271.9 L826.0,268.6 L827.5,264.2 L829.0,261.2 L830.5,265.6 L832.0,270.1 L833.5,269.3 L835.0,266.0 L836.5,261.3 L838.0,249.8 L839.5,242.5 L841.0,239.3 L842.5,238.8 L844.0,238.8 L845.5,239.9 L846.2,241.5 L846.2,376.5 Z" fill="#8fc687"/>
<path d="M846.2,376.5 L846.2,245.3 L847.8,244.2 L849.2,243.1 L850.8,248.2 L852.2,259.8 L853.8,265.4 L855.2,269.9 L856.8,273.7 L858.2,276.0 L859.8,278.3 L861.2,281.5 L862.8,285.0 L864.2,287.3 L865.8,287.3 L867.2,287.3 L868.8,288.3 L870.2,289.5 L871.8,288.7 L873.2,284.0 L874.8,279.4 L876.2,271.5 L877.8,264.1 L879.2,261.9 L880.8,259.7 L882.2,259.0 L883.8,259.0 L885.2,258.6 L886.8,256.4 L888.2,254.2 L889.8,262.3 L890.0,264.5 L890.0,376.5 Z" fill="#5c96d2"/>
<path d="M890.0,376.5 L890.0,294.6 L891.5,299.7 L893.0,304.9 L894.5,309.5 L896.0,313.5 L897.5,317.6 L899.0,320.4 L900.5,323.2 L902.0,326.1 L903.5,329.0 L905.0,332.0 L906.5,333.5 L908.0,335.0 L909.5,333.5 L911.0,329.0 L912.5,324.7 L914.0,320.4 L915.5,316.2 L917.0,309.1 L918.5,299.4 L920.0,290.0 L921.5,281.7 L923.0,278.1 L924.5,276.9 L926.0,278.1 L927.5,279.3 L927.5,376.5 Z" fill="#c48ccb"/>
<path d="M927.5,376.5 L927.5,273.9 L929.0,267.3 L930.5,262.3 L932.0,260.6 L933.5,261.6 L935.0,263.8 L936.5,263.6 L938.0,251.6 L939.5,239.7 L941.0,231.5 L942.5,225.2 L944.0,224.1 L945.5,223.1 L947.0,224.1 L948.5,227.3 L950.0,230.5 L951.5,233.7 L953.0,239.1 L954.5,249.2 L955.0,262.8 L955.0,376.5 Z" fill="#eb5c68"/>
<path d="M955.0,376.5 L955.0,266.3 L956.5,269.6 L958.0,275.8 L959.5,287.9 L961.0,295.9 L962.5,301.9 L964.0,308.2 L965.5,315.8 L967.0,329.8 L968.5,352.4 L970.0,361.1 L971.5,362.9 L973.0,347.5 L974.5,327.7 L976.0,304.5 L977.5,286.1 L979.0,270.8 L980.5,264.1 L982.0,259.1 L983.5,255.8 L985.0,252.5 L986.5,257.5 L988.0,263.5 L989.5,271.9 L990.0,274.7 L990.0,376.5 Z" fill="#f7c35a"/>
<path d="M990.0,376.5 L990.0,280.2 L991.5,262.5 L993.0,250.5 L994.5,248.8 L996.0,250.5 L997.5,253.9 L999.0,264.2 L1000.5,272.5 L1002.0,276.0 L1003.5,279.6 L1005.0,285.3 L1006.5,291.5 L1008.0,297.0 L1009.5,300.8 L1011.0,304.7 L1012.5,307.6 L1014.0,310.2 L1015.5,312.9 L1017.0,315.7 L1018.5,318.5 L1020.0,323.7 L1021.5,329.5 L1023.0,332.5 L1024.5,329.5 L1026.0,326.6 L1027.5,313.7 L1029.0,300.5 L1030.5,291.0 L1032.0,283.6 L1033.5,278.1 L1035.0,274.2 L1036.5,270.7 L1038.0,267.5 L1039.5,265.2 L1041.0,262.9 L1042.5,263.5 L1044.0,264.6 L1045.5,266.6 L1047.0,270.1 L1048.5,273.6 L1048.8,274.2 L1048.8,376.5 Z" fill="#8fc687"/>
<path d="M1048.8,376.5 L1048.8,267.4 L1050.2,264.0 L1051.8,257.3 L1053.2,244.2 L1054.8,233.4 L1056.2,223.8 L1057.8,227.0 L1059.2,230.2 L1060.8,237.4 L1062.2,248.8 L1063.8,254.9 L1065.2,259.1 L1066.8,260.0 L1068.2,260.8 L1069.8,261.6 L1071.2,263.2 L1072.8,264.8 L1074.2,266.5 L1075.8,269.0 L1077.2,272.4 L1078.8,275.8 L1080.2,277.6 L1081.2,278.7 L1081.2,376.5 Z" fill="#5c96d2"/>
<path d="M1081.2,376.5 L1081.2,286.9 L1082.8,276.0 L1084.2,269.6 L1085.8,272.0 L1087.2,274.4 L1088.8,278.8 L1090.2,283.6 L1091.8,289.4 L1093.2,297.0 L1094.8,304.7 L1096.2,312.8 L1097.8,321.1 L1099.2,330.6 L1100.8,342.3 L1102.2,357.0 L1103.8,370.5 L1105.2,357.0 L1106.8,343.7 L1108.2,335.7 L1109.8,328.1 L1111.2,319.7 L1112.8,311.4 L1114.2,302.1 L1115.8,290.6 L1117.2,283.2 L1118.8,277.8 L1120.2,286.9 L1121.2,293.1 L1121.2,376.5 Z" fill="#c48ccb"/>
<path d="M1121.2,376.5 L1121.2,282.3 L1122.8,278.9 L1124.2,274.4 L1125.8,267.8 L1127.2,263.3 L1128.8,260.0 L1130.2,270.0 L1131.8,277.8 L1133.2,281.2 L1134.8,283.5 L1136.2,285.2 L1137.8,301.0 L1139.2,315.8 L1140.8,327.6 L1142.2,337.4 L1143.8,346.4 L1145.2,341.8 L1146.2,338.9 L1146.2,376.5 Z" fill="#eb5c68"/>
<path d="M1146.2,376.5 L1146.2,351.3 L1147.8,327.9 L1149.2,310.8 L1150.8,301.1 L1152.2,298.8 L1153.8,300.1 L1155.2,300.9 L1156.8,299.7 L1158.2,298.4 L1159.8,298.0 L1161.2,298.0 L1162.8,296.4 L1164.2,287.3 L1165.8,266.4 L1167.2,240.3 L1168.8,242.0 L1170.2,259.6 L1171.2,282.8 L1171.2,376.5 Z" fill="#eb5c68"/>
<path d="M1171.2,376.5 L1171.2,275.3 L1172.8,273.6 L1174.2,273.4 L1175.8,276.0 L1177.0,278.1 L1177.0,376.5 Z" fill="#5c96d2"/>
<path d="M706.3 263.3 705.8 261.9 708.1 291.6 706.9 290.2 708.8 297.6 708.6 259.4 709.8 259.3 710.4 286.0 711.1 263.2 711.1 306.4 711.1 276.2 712.6 267.7 712.0 318.3 712.9 334.4 714.4 285.4 713.5 356.7 715.3 273.2 715.5 294.9 716.5 325.5 716.3 340.2 717.5 313.5 719.3 316.1 720.4 302.8 721.2 309.0 721.0 321.0 722.5 318.2 723.1 316.3 724.5 323.1 724.7 355.5 727.0 366.1 731.2 320.8 733.3 320.8 733.7 309.3 733.7 311.3 736.4 299.1 734.9 345.4 737.3 305.1 737.4 343.2 737.5 358.1 739.3 311.1 739.2 293.7 739.9 298.7 740.6 347.6 740.2 354.4 741.0 322.4 741.9 286.4 742.7 351.1 744.1 280.6 745.2 335.2 744.8 293.4 745.7 309.3 747.2 283.9 746.6 300.0 747.6 339.0 748.3 346.7 749.2 251.2 750.0 279.9 749.9 297.2 749.6 350.0 751.3 254.4 754.1 286.3 754.9 263.2 755.2 318.3 755.1 293.4 756.3 249.0 758.1 315.1 757.9 315.6 758.1 298.1 760.3 345.3 760.9 336.4 759.8 297.0 761.7 322.8 761.7 314.2 762.8 291.7 763.1 292.6 764.5 323.2 764.8 334.9 767.0 306.0 768.4 301.3 770.4 315.9 770.6 313.7 770.6 327.0 772.1 349.1 772.6 300.6 772.5 330.2 774.9 263.5 776.0 343.2 775.9 302.2 776.1 263.9 776.6 290.2 778.4 319.7 778.2 261.7 778.1 288.3 780.1 254.7 780.3 320.2 780.1 345.7 781.0 322.2 781.4 278.5 781.8 300.7 784.3 253.0 783.4 259.7 784.6 276.3 784.9 251.8 784.6 278.7 786.7 320.0 787.3 254.6 787.7 317.2 787.5 320.3 789.3 249.9 789.1 354.8 789.4 279.0 790.1 252.9 790.0 305.9 789.9 322.5 791.0 303.0 792.2 307.9 792.7 252.6 791.8 290.0 793.7 255.5 794.3 275.1 794.7 305.7 795.6 261.3 798.7 256.0 798.7 324.3 800.2 268.8 800.3 259.2 801.3 282.6 802.2 262.0 803.1 261.2 802.6 284.4 804.4 327.4 803.9 302.5 804.3 323.2 804.9 271.6 805.4 336.5 807.4 305.3 807.2 258.0 807.9 341.1 807.8 294.9 807.9 283.8 809.6 283.9 810.4 338.1 810.4 296.2 811.0 313.0 813.1 359.5 813.2 294.7 813.5 299.6 815.4 313.8 815.9 292.6 814.6 350.3 816.1 295.7 816.9 300.1 817.0 330.7 817.2 352.4 818.6 315.7 819.6 303.7 820.2 351.6 821.1 295.9 821.8 283.0 823.3 298.3 823.8 331.7 823.6 297.1 824.8 288.5 824.6 310.8 826.4 316.1 825.5 343.6 826.4 304.3 826.6 278.4 827.3 315.3 829.2 269.0 829.0 355.5 829.4 336.6 831.3 265.7 830.9 319.6 831.6 342.7 832.5 324.1 834.9 311.8 834.3 280.1 834.6 274.3 835.7 325.7 836.7 324.7 837.0 337.0 838.1 314.1 838.3 252.6 839.5 301.4 840.0 273.3 840.1 250.6 841.3 279.8 842.5 319.1 842.0 291.5 844.1 335.3 843.7 323.0 845.3 284.8 846.8 248.6 846.3 260.6 847.3 265.8 848.2 290.9 849.7 275.2 850.4 331.8 851.1 287.8 851.8 265.8 852.3 292.4 851.8 284.6 853.8 329.1 853.5 278.1 855.6 338.6 856.4 328.1 856.5 276.0 857.9 360.0 857.2 330.9 857.6 295.8 858.9 279.0 859.3 318.5 862.2 324.8 861.8 312.7 862.8 298.9 863.5 296.3 863.9 329.7 866.1 316.6 865.8 297.9 867.4 311.7 867.4 360.2 869.1 329.5 869.6 331.4 872.1 319.7 871.8 292.0 874.0 337.1 873.5 284.1 874.4 319.2 875.4 313.1 876.7 311.6 877.3 288.8 877.7 274.2 878.6 282.6 879.1 279.8 879.9 286.2 880.4 358.7 881.7 304.8 882.3 278.5 882.4 291.4 883.6 353.2 885.6 318.8 886.1 330.6 887.1 290.8 886.3 338.4 886.4 295.0 887.4 349.2 888.3 271.3 891.7 316.3 892.5 304.9 892.2 320.2 893.7 323.6 894.2 351.8 895.7 312.5 896.4 320.6 896.3 327.5 897.4 334.7 898.0 367.5 899.2 366.9 900.3 339.5 901.2 338.0 902.2 358.9 903.2 348.0 905.1 359.0 906.3 341.6 907.3 367.0 908.9 338.6 908.1 368.5 912.3 334.0 912.6 349.4 915.3 357.8 915.6 353.1 917.6 335.4 917.3 360.4 917.6 344.8 918.5 336.9 918.8 327.6 918.3 339.4 920.7 315.0 919.7 295.0 921.4 332.4 920.8 326.3 922.3 288.4 922.0 317.2 923.8 315.0 923.4 304.1 924.3 314.5 923.5 311.7 924.7 326.6 924.3 302.7 926.2 337.7 929.1 287.7 929.2 343.1 930.1 265.4 931.2 294.1 931.4 266.3 932.2 290.6 932.7 283.6 933.5 287.3 934.8 349.5 933.8 358.6 936.4 359.2 935.8 317.2 937.8 331.8 937.8 335.1 937.6 330.2 940.4 318.3 939.8 280.6 940.1 266.7 941.4 330.3 940.7 345.9 942.0 263.9 942.8 262.1 944.4 225.7 943.6 298.0 945.0 243.1 945.2 275.3 946.0 282.8 947.2 339.0 947.4 332.0 948.5 280.0 947.1 327.1 948.4 325.4 948.9 347.2 949.3 290.9 950.2 304.4 949.7 258.3 950.2 256.6 950.7 252.7 951.2 253.1 953.3 346.1 953.2 348.3 953.6 277.9 953.3 270.8 956.2 314.2 957.8 323.2 958.3 304.7 959.6 299.4 960.8 321.5 960.5 313.1 960.3 356.5 961.3 341.8 962.9 354.3 963.1 308.8 963.8 353.6 965.5 314.0 966.8 325.2 967.8 331.8 969.8 359.0 970.7 361.9 970.8 371.9 973.6 352.2 974.3 342.3 976.0 338.5 977.5 320.1 977.9 300.7 978.6 335.3 979.5 337.1 978.1 276.7 980.7 298.6 981.8 281.2 981.5 330.7 981.6 273.1 981.4 274.2 982.4 290.4 984.8 299.1 984.8 282.0 985.8 308.0 986.3 296.6 986.9 294.9 986.6 266.0 988.8 327.5 988.9 309.7 991.3 279.0 990.6 269.5 991.6 291.7 992.6 284.8 993.4 333.2 993.7 257.7 993.2 298.6 993.6 278.0 994.9 352.5 995.0 338.7 995.4 253.8 995.9 272.6 996.5 352.8 997.3 340.5 997.2 287.6 998.3 326.1 998.6 313.4 998.7 271.9 999.5 271.6 1001.0 337.4 1000.3 345.8 1001.2 355.4 1001.8 356.8 1003.1 323.9 1003.2 296.5 1004.3 299.8 1005.7 297.5 1006.1 320.7 1006.9 354.1 1007.8 317.7 1009.1 364.9 1008.0 343.3 1010.3 305.4 1010.2 312.8 1011.8 336.2 1012.1 331.7 1013.7 334.5 1013.8 326.1 1013.3 324.3 1014.2 323.4 1016.5 320.7 1016.6 350.6 1017.1 323.1 1018.8 320.5 1020.5 326.9 1021.0 359.8 1023.6 344.6 1024.3 353.8 1024.8 333.1 1025.7 368.6 1027.9 352.4 1028.8 309.2 1029.4 307.3 1029.2 355.8 1029.2 311.5 1030.2 343.7 1030.3 336.5 1031.3 287.2 1032.7 284.0 1033.6 332.4 1034.6 290.2 1034.1 356.4 1035.0 292.8 1035.7 314.1 1036.8 283.1 1037.8 321.1 1036.1 302.2 1037.9 313.0 1039.1 266.5 1039.2 330.2 1039.1 351.6 1041.2 306.5 1041.2 299.8 1042.7 269.2 1042.2 271.2 1043.7 286.7 1042.1 355.4 1044.4 350.6 1045.2 294.0 1045.1 329.4 1045.0 282.0 1046.3 352.0 1046.9 281.6 1048.9 282.9 1049.8 324.4 1051.0 304.0 1051.1 339.5 1052.4 300.8 1052.7 318.4 1053.5 277.7 1051.8 257.4 1053.4 241.6 1054.1 298.6 1055.2 260.1 1054.3 273.7 1055.3 276.9 1055.5 294.2 1057.3 250.6 1057.7 330.2 1058.6 252.7 1057.8 278.3 1059.5 291.1 1058.6 229.6 1060.3 326.9 1060.3 245.4 1061.0 353.1 1061.6 280.1 1062.3 296.9 1064.3 301.8 1063.9 313.2 1065.6 282.5 1065.6 303.8 1065.8 337.0 1066.1 294.3 1066.4 330.3 1066.8 270.0 1069.1 261.9 1068.8 297.0 1069.6 319.0 1069.8 350.4 1071.4 292.2 1071.2 312.7 1071.0 314.3 1073.4 293.2 1073.7 334.1 1073.9 274.4 1074.3 266.3 1075.4 272.3 1075.8 309.0 1076.6 342.5 1076.3 344.1 1076.1 347.8 1076.9 327.0 1078.0 293.5 1078.6 284.8 1080.0 353.5 1079.3 300.9 1081.6 358.1 1081.3 314.8 1083.1 289.7 1082.8 274.2 1084.4 340.8 1086.2 328.9 1086.7 324.8 1086.7 343.1 1087.5 278.8 1088.8 319.5 1090.6 348.5 1090.3 346.9 1092.2 351.7 1093.0 295.1 1092.9 304.5 1093.8 350.5 1094.7 336.6 1094.8 319.7 1094.3 322.6 1096.4 342.0 1098.0 343.0 1098.5 357.5 1100.8 346.8 1101.5 348.9 1102.2 370.4 1103.4 368.6 1107.8 362.6 1107.3 361.7 1108.6 345.6 1109.9 361.5 1112.1 345.8 1111.9 358.7 1113.5 324.9 1113.2 320.2 1115.1 341.5 1114.7 338.2 1115.3 303.8 1115.9 296.7 1116.8 307.3 1117.9 314.3 1117.4 337.5 1120.2 285.4 1118.9 298.3 1122.1 290.4 1122.2 287.6 1123.7 343.3 1124.7 270.7 1126.7 295.5 1126.8 266.0 1127.3 274.8 1128.0 343.1 1128.3 336.5 1129.7 317.7 1130.7 297.2 1130.9 351.1 1132.0 297.1 1132.4 343.3 1133.8 326.7 1133.3 298.5 1133.4 326.7 1135.6 337.9 1135.6 301.8 1137.4 344.1 1138.1 321.6 1138.9 311.8 1139.6 366.6 1139.5 325.6 1140.4 352.8 1141.5 348.3 1142.9 371.4 1147.3 349.8 1148.0 323.8 1148.4 311.3 1150.5 321.9 1150.7 330.2 1152.5 333.0 1153.3 319.2 1154.1 330.0 1154.0 339.7 1155.6 321.1 1155.3 317.1 1156.7 311.3 1157.6 305.9 1159.9 361.1 1159.8 363.2 1159.8 327.0 1161.4 298.7 1162.3 325.1 1163.7 334.7 1164.2 331.5 1165.2 298.1 1166.2 348.0 1168.1 243.3 1168.2 290.5 1168.5 295.3 1169.5 319.9 1172.7 289.9 1172.5 322.7 1173.2 304.7 1174.9 275.8 1173.6 304.4 1176.2 284.2 1174.3 299.5" fill="none" stroke="none" marker-start="url(#mw)" marker-mid="url(#mw)" marker-end="url(#mw)"/>
<path d="M705.1 261.8 706.3 257.9 706.9 254.4 708.3 259.5 709.3 260.2 709.6 260.7 711.2 259.4 713.9 265.3 715.5 269.0 716.8 283.3 717.7 286.9 719.3 279.0 720.4 285.4 721.3 286.2 722.0 308.5 723.5 284.3 724.4 314.4 725.3 315.8 725.7 318.4 727.0 322.1 726.6 322.7 728.0 321.7 728.2 301.0 728.7 306.6 729.9 320.2 731.2 309.3 732.3 299.4 733.4 301.6 733.7 289.4 735.2 261.2 735.5 280.9 738.1 259.0 740.6 250.7 741.6 242.1 742.9 233.4 743.8 250.4 744.8 241.3 745.6 242.6 746.9 246.6 748.0 242.7 748.8 224.2 750.6 246.7 927.9 270.4 929.8 257.7 930.5 263.2 932.8 250.9 933.9 251.5 934.6 248.8 936.1 250.9 936.5 261.4 938.5 242.2 939.4 238.2 941.5 214.1 942.6 227.5 944.1 223.4 946.2 220.3 947.1 221.2 948.5 223.6 949.1 223.0 950.2 229.8 950.7 226.0 952.8 242.1 954.5 238.7 1121.9 277.3 1123.0 263.6 1123.6 268.2 1125.1 270.4 1125.9 268.9 1126.3 258.1 1127.3 257.9 1128.9 262.3 1130.0 250.9 1130.9 263.0 1132.2 268.6 1132.5 283.0 1133.4 280.1 1135.1 268.1 1136.8 286.3 1137.9 298.9 1139.0 283.0 1140.2 321.4 1140.9 327.0 1141.5 326.7 1141.5 333.1 1142.8 334.8 1144.0 318.9 1145.2 317.5 1146.5 336.6 1147.1 311.1 1148.2 325.3 1147.3 308.1 1149.2 288.5 1149.3 287.9 1149.9 310.5 1150.7 267.9 1151.1 287.6 1151.3 284.3 1152.5 280.0 1153.7 297.8 1154.7 301.2 1156.2 294.6 1156.4 291.9 1157.9 298.8 1159.1 288.8 1159.9 263.6 1160.8 293.8 1161.8 269.2 1162.5 265.5 1163.9 282.4 1164.8 281.6 1165.9 264.8 1166.6 247.5 1168.1 234.9 1169.2 240.3 730.5 236.2 730.5 247.5 730.0 263.8 717.0 243.8 717.5 255.0 726.2 280.0 731.2 302.5 1151.2 275.0 1157.5 277.5 1128.8 252.5" fill="none" stroke="none" marker-start="url(#mr)" marker-mid="url(#mr)" marker-end="url(#mr)"/>
<path d="M753.2 237.5 754.2 241.9 756.1 248.6 757.3 244.9 758.2 254.5 758.7 263.4 760.1 272.4 761.6 276.1 764.2 282.3 765.3 263.0 766.0 289.2 768.6 287.2 769.9 289.0 772.0 269.6 775.5 254.9 775.8 256.0 776.9 242.2 778.2 256.8 778.7 254.0 779.5 250.9 780.7 240.1 782.5 247.0 782.7 248.6 784.3 246.1 785.0 242.4 787.1 247.9 788.1 238.6 788.8 244.3 790.0 244.7 790.7 243.7 793.3 241.1 794.0 233.7 796.4 231.7 955.2 267.1 958.9 266.8 959.9 288.3 960.2 280.3 961.9 296.2 962.6 293.1 964.0 308.5 964.7 304.8 965.2 309.3 966.4 318.1 967.2 335.2 968.3 351.0 968.9 337.5 969.2 343.6 969.9 361.9 970.6 352.4 971.8 359.4 971.6 362.9 972.4 349.3 972.8 343.6 973.6 339.3 974.7 294.7 975.3 308.2 976.3 299.0 978.6 276.9 979.9 267.0 980.2 251.6 983.5 250.3 984.2 246.3 986.9 256.9 987.0 257.7 988.6 263.0 773.8 255.0 980.0 241.2 966.2 296.2" fill="none" stroke="none" marker-start="url(#my)" marker-mid="url(#my)" marker-end="url(#my)"/>
<path d="M798.4 242.8 798.8 247.6 800.1 240.3 802.0 249.9 803.0 248.1 806.7 256.8 807.7 242.4 809.2 254.4 810.4 272.2 810.6 281.0 812.3 282.6 813.3 287.0 814.0 284.3 815.9 286.2 817.0 281.4 817.7 289.1 818.6 284.7 819.7 270.2 820.9 265.5 823.8 266.2 825.3 266.6 826.0 269.6 826.9 262.5 827.8 255.8 828.5 262.4 830.9 267.1 832.2 270.1 834.7 244.2 835.7 261.9 837.2 258.8 838.5 248.7 838.5 241.2 841.3 237.9 843.1 236.7 844.4 237.5 845.2 238.6 990.6 276.2 991.6 257.6 992.6 249.4 993.7 239.5 994.3 246.6 995.0 239.6 996.5 253.1 998.6 234.9 1000.0 258.9 999.4 268.9 1000.1 248.7 1001.3 275.8 1003.0 279.3 1003.7 279.2 1004.6 283.0 1005.3 278.9 1005.2 280.6 1006.7 256.8 1006.3 278.3 1007.4 294.0 1008.2 276.6 1009.1 290.8 1010.9 274.8 1011.4 304.4 1011.3 299.2 1012.1 295.1 1013.3 308.5 1014.2 300.1 1015.8 311.2 1016.7 301.5 1016.8 285.5 1017.3 274.6 1017.4 318.0 1018.4 289.5 1018.0 288.0 1019.4 320.6 1020.5 315.9 1021.5 330.2 1021.3 315.8 1022.4 326.3 1022.0 334.4 1023.4 296.9 1024.0 331.2 1024.2 323.6 1024.0 290.1 1025.8 320.1 1026.1 299.9 1027.8 294.6 1028.2 304.3 1029.1 298.5 1030.9 282.3 1031.2 282.7 1032.2 271.9 1033.7 270.9 1034.9 255.2 1035.0 266.6 1036.2 250.1 1037.1 264.5 1038.3 261.1 1039.8 262.1 1039.6 266.4 1040.4 235.4 1041.8 247.6 1042.5 262.0 1043.7 264.4 1044.4 233.4 1045.5 244.7 1046.3 271.8 1047.5 253.7 1007.5 256.2 1016.2 272.5 1022.5 292.5" fill="none" stroke="none" marker-start="url(#mg)" marker-mid="url(#mg)" marker-end="url(#mg)"/>
<path d="M848.3 244.5 849.8 244.9 850.7 244.4 851.8 241.2 853.1 245.3 854.2 249.5 856.1 273.3 856.3 274.5 857.5 269.7 859.6 277.0 861.2 281.6 861.7 284.0 863.8 272.8 865.0 277.8 865.8 287.4 866.7 285.1 867.5 282.9 868.5 285.4 869.5 266.4 870.3 267.0 871.9 286.8 873.4 280.6 875.1 260.0 876.2 274.4 877.1 271.4 877.6 259.5 878.9 263.6 880.2 261.2 880.6 247.9 882.1 260.3 882.7 242.8 884.2 258.1 884.9 257.7 885.4 260.7 886.8 255.4 887.9 249.0 889.0 237.0 1048.8 245.3 1049.8 265.9 1051.4 263.2 1052.0 251.4 1053.6 227.9 1054.3 220.7 1055.5 226.3 1056.0 224.5 1058.0 228.1 1058.8 225.8 1060.8 242.7 1061.9 248.9 1063.2 253.5 1064.6 258.9 1064.8 259.9 1066.4 235.3 1067.1 257.9 1068.0 261.6 1069.7 260.2 1070.5 249.1 1071.0 264.3 1072.5 266.5 1075.0 250.7 1076.4 271.1 1077.1 272.2 1079.3 261.5 1080.7 279.3 1171.6 268.7 1172.4 268.2 1174.3 276.2 1176.1 278.7 850.5 235.0 860.0 260.0 1062.5 235.0" fill="none" stroke="none" marker-start="url(#mb)" marker-mid="url(#mb)" marker-end="url(#mb)"/>
<path d="M890.2 278.8 890.6 299.3 891.6 298.1 892.3 284.8 893.7 290.2 894.5 276.4 895.7 310.3 895.2 310.0 896.7 292.8 898.0 317.0 897.7 317.2 898.6 309.3 899.5 307.5 900.3 290.1 900.6 325.5 901.8 322.1 902.0 321.1 902.0 295.4 903.2 290.0 903.9 297.3 904.8 308.6 904.3 324.5 905.2 333.3 905.4 293.1 906.1 329.2 907.7 326.2 907.4 330.4 908.1 324.9 909.7 302.6 909.2 289.7 910.5 330.3 911.2 313.2 911.5 307.4 912.6 296.1 913.5 295.8 913.3 321.0 914.6 320.4 915.7 300.4 915.7 312.6 916.5 308.2 917.1 280.0 918.4 301.1 919.5 284.6 920.5 288.9 921.4 284.0 922.6 275.1 923.6 274.7 923.9 278.6 924.7 273.2 925.7 247.8 926.2 270.8 1081.4 282.6 1082.6 278.9 1084.1 263.3 1085.2 271.4 1086.0 252.8 1086.6 266.0 1087.4 278.0 1089.0 278.8 1090.1 277.8 1091.2 286.4 1092.2 285.7 1091.3 278.8 1092.5 289.7 1093.5 262.3 1094.4 287.2 1096.0 288.6 1095.5 310.6 1096.6 315.8 1097.5 321.8 1098.2 317.2 1098.8 305.6 1098.7 319.3 1100.1 289.6 1099.9 286.5 1100.3 321.0 1100.4 333.0 1101.6 339.9 1101.5 329.2 1103.2 357.6 1102.6 348.2 1103.4 363.7 1103.8 329.6 1104.3 312.1 1104.5 303.4 1105.5 349.4 1105.7 353.0 1106.4 340.2 1107.1 313.8 1107.7 335.0 1108.2 318.8 1108.5 296.6 1109.2 309.5 1109.7 304.3 1110.8 279.3 1110.6 309.5 1112.1 315.4 1113.1 313.1 1113.5 303.9 1114.7 260.3 1114.6 282.6 1115.9 259.2 1116.7 255.3 1118.0 262.4 1119.2 262.8 1119.9 274.0 896.2 270.5 903.2 280.0 909.5 272.5 905.0 297.5 911.2 305.0 1098.8 262.5 1104.5 276.2 1108.8 260.0 1115.0 253.8" fill="none" stroke="none" marker-start="url(#mp)" marker-mid="url(#mp)" marker-end="url(#mp)"/>
<ellipse cx="870.0" cy="81.2" rx="3.40" ry="5.60" fill="#5c96d2"/>
<ellipse cx="889.5" cy="191.8" rx="3.40" ry="5.60" fill="#5c96d2"/>
<ellipse cx="887.0" cy="222.5" rx="3.40" ry="5.60" fill="#5c96d2"/>
<ellipse cx="877.0" cy="228.0" rx="3.40" ry="5.60" fill="#5c96d2"/>
<ellipse cx="1066.2" cy="185.8" rx="3.40" ry="5.60" fill="#5c96d2"/>
<ellipse cx="1055.5" cy="193.8" rx="3.40" ry="5.60" fill="#5c96d2"/>
<ellipse cx="1057.0" cy="200.0" rx="3.40" ry="5.60" fill="#5c96d2"/>
<ellipse cx="1071.5" cy="205.0" rx="3.40" ry="5.60" fill="#5c96d2"/>
<ellipse cx="1175.0" cy="244.5" rx="3.40" ry="5.60" fill="#5c96d2"/>
<ellipse cx="833.8" cy="101.2" rx="3.40" ry="5.60" fill="#8fc687"/>
<ellipse cx="841.8" cy="158.8" rx="3.40" ry="5.60" fill="#8fc687"/>
<ellipse cx="845.8" cy="185.5" rx="3.40" ry="5.60" fill="#8fc687"/>
<ellipse cx="843.2" cy="203.0" rx="3.40" ry="5.60" fill="#8fc687"/>
<ellipse cx="826.2" cy="210.0" rx="3.40" ry="5.60" fill="#8fc687"/>
<ellipse cx="800.5" cy="215.0" rx="3.40" ry="5.60" fill="#8fc687"/>
<ellipse cx="1043.2" cy="115.8" rx="3.40" ry="5.60" fill="#8fc687"/>
<ellipse cx="996.2" cy="181.2" rx="3.40" ry="5.60" fill="#8fc687"/>
<ellipse cx="1042.0" cy="205.0" rx="3.40" ry="5.60" fill="#8fc687"/>
<ellipse cx="1032.0" cy="223.8" rx="3.40" ry="5.60" fill="#8fc687"/>
<ellipse cx="952.5" cy="141.8" rx="3.40" ry="5.60" fill="#eb5c68"/>
<ellipse cx="952.0" cy="157.0" rx="3.40" ry="5.60" fill="#eb5c68"/>
<ellipse cx="949.5" cy="168.8" rx="3.40" ry="5.60" fill="#eb5c68"/>
<ellipse cx="945.0" cy="179.5" rx="3.40" ry="5.60" fill="#eb5c68"/>
<ellipse cx="953.2" cy="200.0" rx="3.40" ry="5.60" fill="#eb5c68"/>
<ellipse cx="947.5" cy="205.8" rx="3.40" ry="5.60" fill="#eb5c68"/>
<ellipse cx="708.0" cy="218.8" rx="3.40" ry="5.60" fill="#eb5c68"/>
<ellipse cx="735.0" cy="228.8" rx="3.40" ry="5.60" fill="#eb5c68"/>
<ellipse cx="730.5" cy="236.2" rx="3.40" ry="5.60" fill="#eb5c68"/>
<ellipse cx="1131.2" cy="177.5" rx="3.40" ry="5.60" fill="#eb5c68"/>
<ellipse cx="1168.0" cy="170.0" rx="3.40" ry="5.60" fill="#eb5c68"/>
<ellipse cx="1133.8" cy="207.5" rx="3.40" ry="5.60" fill="#eb5c68"/>
<ellipse cx="1128.8" cy="220.0" rx="3.40" ry="5.60" fill="#eb5c68"/>
<ellipse cx="794.5" cy="199.2" rx="3.40" ry="5.60" fill="#f7c35a"/>
<ellipse cx="793.8" cy="217.5" rx="3.40" ry="5.60" fill="#f7c35a"/>
<ellipse cx="971.2" cy="220.0" rx="3.40" ry="5.60" fill="#f7c35a"/>
<ellipse cx="982.5" cy="207.5" rx="3.40" ry="5.60" fill="#f7c35a"/>
<ellipse cx="1173.8" cy="177.0" rx="3.40" ry="5.60" fill="#f7c35a"/>
<ellipse cx="985.8" cy="207.5" rx="3.40" ry="5.60" fill="#f7c35a"/>
<ellipse cx="981.2" cy="221.2" rx="3.40" ry="5.60" fill="#f7c35a"/>
<ellipse cx="916.8" cy="208.0" rx="3.40" ry="5.60" fill="#c48ccb"/>
<ellipse cx="892.0" cy="220.0" rx="3.40" ry="5.60" fill="#c48ccb"/>
<ellipse cx="1083.0" cy="175.5" rx="3.40" ry="5.60" fill="#c48ccb"/>
<ellipse cx="1090.8" cy="204.2" rx="3.40" ry="5.60" fill="#c48ccb"/>
<ellipse cx="1115.2" cy="198.2" rx="3.40" ry="5.60" fill="#c48ccb"/>
<ellipse cx="1172.5" cy="207.0" rx="3.40" ry="5.60" fill="#c48ccb"/>
<ellipse cx="916.2" cy="208.0" rx="3.40" ry="5.60" fill="#c48ccb"/>
<ellipse cx="735.0" cy="227.5" rx="3.40" ry="5.60" fill="#eb5c68"/>
<ellipse cx="793.8" cy="216.2" rx="3.40" ry="5.60" fill="#f7c35a"/>
<ellipse cx="800.5" cy="215.0" rx="3.40" ry="5.60" fill="#8fc687"/>
<ellipse cx="887.0" cy="222.5" rx="3.40" ry="5.60" fill="#5c96d2"/>
<ellipse cx="877.0" cy="227.5" rx="3.40" ry="5.60" fill="#5c96d2"/>
<ellipse cx="889.5" cy="216.2" rx="3.40" ry="5.60" fill="#5c96d2"/>
<ellipse cx="947.5" cy="205.0" rx="3.40" ry="5.60" fill="#eb5c68"/>
<ellipse cx="953.0" cy="200.5" rx="3.40" ry="5.60" fill="#eb5c68"/>
<ellipse cx="1126.2" cy="225.0" rx="3.40" ry="5.60" fill="#eb5c68"/>
<ellipse cx="1126.2" cy="235.0" rx="3.40" ry="5.60" fill="#eb5c68"/>
<ellipse cx="1166.2" cy="226.2" rx="3.40" ry="5.60" fill="#eb5c68"/>
<ellipse cx="971.2" cy="220.0" rx="3.40" ry="5.60" fill="#f7c35a"/>
<ellipse cx="981.2" cy="221.2" rx="3.40" ry="5.60" fill="#f7c35a"/>
<ellipse cx="986.2" cy="207.5" rx="3.40" ry="5.60" fill="#f7c35a"/>
<ellipse cx="987.0" cy="228.8" rx="3.40" ry="5.60" fill="#f7c35a"/>
<ellipse cx="993.8" cy="208.8" rx="3.40" ry="5.60" fill="#8fc687"/>
<ellipse cx="996.2" cy="215.0" rx="3.40" ry="5.60" fill="#8fc687"/>
<ellipse cx="1032.0" cy="222.5" rx="3.40" ry="5.60" fill="#8fc687"/>
<ellipse cx="1042.5" cy="205.0" rx="3.40" ry="5.60" fill="#8fc687"/>
<ellipse cx="1043.8" cy="227.5" rx="3.40" ry="5.60" fill="#8fc687"/>
<ellipse cx="1050.0" cy="221.2" rx="3.40" ry="5.60" fill="#5c96d2"/>
<ellipse cx="1056.2" cy="210.0" rx="3.40" ry="5.60" fill="#5c96d2"/>
<ellipse cx="1083.8" cy="238.8" rx="3.40" ry="5.60" fill="#c48ccb"/>
<ellipse cx="1113.8" cy="233.8" rx="3.40" ry="5.60" fill="#c48ccb"/>
<ellipse cx="1121.2" cy="232.5" rx="3.40" ry="5.60" fill="#c48ccb"/>
<ellipse cx="1175.0" cy="243.8" rx="3.40" ry="5.60" fill="#5c96d2"/>
<line x1="684.0" y1="149.35" x2="1194.2" y2="149.35" stroke="#7092b5" stroke-width="1.3"/>
<path d="M686.90 69.75H1194.80M686.90 384.20H1194.80" stroke="#8c8c8c" stroke-width="1.80" fill="none"/>
<path d="M687.50 69.75V384.20M1194.20 69.75V384.20" stroke="#a6a6a6" stroke-width="1.30" fill="none"/>
<text x="941.2" y="42.3" font-size="31.0" font-weight="bold" text-anchor="middle" textLength="138.0" lengthAdjust="spacingAndGlyphs" fill="#0d0d0d">MLM.SHUHAMA</text>
<text transform="translate(732.5,412.0) scale(0.630,1)" font-size="17.5" text-anchor="middle" fill="#262626" stroke="#262626" stroke-width="0.45">1</text>
<text transform="translate(780.0,412.0) scale(0.630,1)" font-size="17.5" text-anchor="middle" fill="#262626" stroke="#262626" stroke-width="0.45">2</text>
<text transform="translate(821.5,412.0) scale(0.630,1)" font-size="17.5" text-anchor="middle" fill="#262626" stroke="#262626" stroke-width="0.45">3</text>
<text transform="translate(866.0,412.0) scale(0.630,1)" font-size="17.5" text-anchor="middle" fill="#262626" stroke="#262626" stroke-width="0.45">4</text>
<text transform="translate(907.5,412.0) scale(0.630,1)" font-size="17.5" text-anchor="middle" fill="#262626" stroke="#262626" stroke-width="0.45">5</text>
<text transform="translate(945.0,412.0) scale(0.630,1)" font-size="17.5" text-anchor="middle" fill="#262626" stroke="#262626" stroke-width="0.45">6</text>
<text transform="translate(971.5,412.0) scale(0.630,1)" font-size="17.5" text-anchor="middle" fill="#262626" stroke="#262626" stroke-width="0.45">7</text>
<text transform="translate(1020.0,412.0) scale(0.630,1)" font-size="17.5" text-anchor="middle" fill="#262626" stroke="#262626" stroke-width="0.45">8</text>
<text transform="translate(1068.0,412.0) scale(0.630,1)" font-size="17.5" text-anchor="middle" fill="#262626" stroke="#262626" stroke-width="0.45">9</text>
<text transform="translate(1103.0,412.0) scale(0.630,1)" font-size="17.5" text-anchor="middle" fill="#262626" stroke="#262626" stroke-width="0.45">10</text>
<text transform="translate(1144.0,412.0) scale(0.630,1)" font-size="17.5" text-anchor="middle" fill="#262626" stroke="#262626" stroke-width="0.45">11</text>
<text transform="translate(1171.0,412.0) scale(0.630,1)" font-size="17.5" text-anchor="middle" fill="#262626" stroke="#262626" stroke-width="0.45">13</text>
<text transform="translate(678.0,77.2) scale(0.750,1) rotate(-90)" font-size="15.0" text-anchor="middle" fill="#262626" stroke="#262626" stroke-width="0.45">4</text>
<text transform="translate(678.0,149.7) scale(0.750,1) rotate(-90)" font-size="15.0" text-anchor="middle" fill="#262626" stroke="#262626" stroke-width="0.45">3</text>
<text transform="translate(678.0,224.6) scale(0.750,1) rotate(-90)" font-size="15.0" text-anchor="middle" fill="#262626" stroke="#262626" stroke-width="0.45">2</text>
<text transform="translate(678.0,299.2) scale(0.750,1) rotate(-90)" font-size="15.0" text-anchor="middle" fill="#262626" stroke="#262626" stroke-width="0.45">1</text>
<text transform="translate(657.3,228.5) scale(0.630,1) rotate(-90)" font-size="27.6" text-anchor="middle" fill="#262626" stroke="#262626" stroke-width="0.3">− log<tspan font-size="18.2" dy="3.3">10</tspan><tspan dy="-3.3">( </tspan><tspan font-style="italic">p</tspan> )</text>
<path d="M67.0,748.8 L67.0,742.8 L68.5,625.3 L70.0,622.6 L71.5,627.0 L73.0,631.5 L74.5,635.4 L76.0,638.8 L77.5,642.3 L79.0,644.0 L80.5,645.7 L82.0,647.4 L83.5,651.9 L85.0,657.8 L86.5,664.4 L88.0,674.3 L89.5,684.5 L91.0,700.4 L92.5,721.0 L94.0,730.7 L95.5,727.4 L97.0,716.5 L98.5,703.8 L100.0,694.8 L101.5,684.1 L103.0,661.6 L104.5,649.8 L106.0,647.4 L107.5,645.1 L109.0,641.7 L110.5,638.3 L112.0,634.9 L113.5,631.5 L115.0,628.1 L116.5,627.0 L118.0,625.9 L119.5,627.0 L120.0,628.1 L120.0,748.8 Z" fill="#eb5c68"/>
<path d="M120.0,748.8 L120.0,625.4 L121.5,623.7 L123.0,623.7 L124.5,627.0 L126.0,630.3 L127.5,630.9 L129.0,630.9 L130.5,632.7 L132.0,638.3 L133.5,643.9 L135.0,642.9 L136.5,640.7 L138.0,635.8 L139.5,625.9 L141.0,616.1 L142.5,618.6 L144.0,624.0 L145.5,632.2 L147.0,636.4 L148.5,636.4 L150.0,636.4 L151.5,629.8 L153.0,623.2 L154.5,618.3 L156.0,615.1 L157.5,615.4 L159.0,616.5 L160.5,615.8 L162.0,611.5 L163.5,607.2 L165.0,605.6 L166.5,604.5 L168.0,605.9 L168.8,609.1 L168.8,748.8 Z" fill="#f7c35a"/>
<path d="M168.8,748.8 L168.8,610.9 L170.2,614.3 L171.8,620.0 L173.2,630.4 L174.8,639.7 L176.2,648.7 L177.8,655.1 L179.2,661.6 L180.8,668.3 L182.2,683.9 L183.8,705.6 L185.2,730.9 L186.8,742.8 L188.2,742.8 L189.8,742.8 L191.2,740.6 L192.8,695.1 L194.2,667.6 L195.8,658.7 L197.2,650.1 L198.8,645.7 L200.2,642.1 L201.8,639.3 L203.2,638.2 L204.8,637.0 L206.2,635.8 L207.8,634.6 L209.2,632.7 L210.8,629.2 L212.2,625.7 L213.8,618.5 L215.2,610.6 L216.8,604.8 L218.2,603.1 L219.8,605.9 L221.2,610.9 L221.2,748.8 Z" fill="#8fc687"/>
<path d="M221.2,748.8 L221.2,620.1 L222.8,622.5 L224.2,624.9 L225.8,638.1 L227.2,663.2 L228.8,676.3 L230.2,685.7 L231.8,688.7 L233.2,691.7 L234.8,698.9 L236.2,708.5 L237.8,717.6 L239.2,721.2 L240.8,724.8 L242.2,723.6 L243.8,720.0 L245.2,716.8 L246.8,715.0 L248.2,713.3 L249.8,711.6 L251.2,709.9 L252.8,706.6 L254.2,695.5 L255.8,685.0 L257.2,674.5 L258.8,664.2 L260.2,661.5 L261.8,658.9 L263.2,658.9 L264.8,661.5 L266.2,664.2 L267.5,671.0 L267.5,748.8 Z" fill="#5c96d2"/>
<path d="M267.5,748.8 L267.5,671.6 L269.0,665.5 L270.5,662.8 L272.0,666.8 L273.5,670.9 L275.0,676.3 L276.5,682.0 L278.0,686.9 L279.5,689.9 L281.0,692.9 L282.5,694.7 L284.0,696.2 L285.5,697.8 L287.0,699.3 L288.5,700.9 L290.0,693.4 L291.5,684.4 L293.0,677.2 L294.5,673.0 L296.0,668.9 L297.5,668.2 L299.0,668.2 L300.5,663.4 L302.0,649.6 L303.5,641.4 L305.0,635.7 L306.5,645.2 L308.0,654.2 L309.5,662.1 L310.0,664.8 L310.0,748.8 Z" fill="#c48ccb"/>
<path d="M310.0,748.8 L310.0,648.5 L311.5,652.0 L313.0,657.5 L314.5,666.7 L316.0,665.7 L317.5,659.5 L319.0,653.8 L320.5,650.2 L322.0,646.1 L323.5,641.4 L325.0,636.7 L326.5,624.7 L328.0,592.6 L329.5,586.1 L331.0,583.3 L332.5,582.2 L334.0,582.5 L335.5,590.0 L337.0,597.5 L338.5,618.9 L338.8,622.5 L338.8,748.8 Z" fill="#eb5c68"/>
<path d="M338.8,748.8 L338.8,621.3 L340.2,627.9 L341.8,636.8 L343.2,650.5 L344.8,662.2 L346.2,673.1 L347.8,684.4 L349.2,696.4 L350.8,709.2 L352.2,723.3 L353.8,739.6 L355.2,742.8 L356.8,742.1 L358.2,723.3 L359.8,681.4 L361.2,661.0 L362.8,648.8 L364.2,645.3 L365.8,641.9 L367.2,640.0 L368.8,638.9 L370.2,637.6 L371.8,635.3 L373.2,633.1 L374.8,635.7 L376.2,640.8 L377.5,649.3 L377.5,748.8 Z" fill="#f7c35a"/>
<path d="M377.5,748.8 L377.5,615.3 L379.0,613.6 L380.5,611.6 L382.0,609.4 L383.5,607.1 L385.0,605.7 L386.5,604.6 L388.0,604.6 L389.5,606.9 L391.0,609.2 L392.5,619.7 L394.0,632.4 L395.5,647.0 L397.0,659.3 L398.5,669.1 L400.0,688.1 L401.5,708.2 L403.0,714.8 L404.5,721.7 L406.0,727.7 L407.5,733.3 L409.0,739.3 L410.5,742.5 L412.0,742.8 L413.5,742.5 L415.0,733.3 L416.5,720.0 L418.0,698.1 L419.5,684.5 L421.0,677.6 L422.5,670.8 L424.0,669.4 L425.5,668.1 L427.0,663.5 L428.5,655.8 L430.0,648.2 L431.5,644.5 L433.0,640.8 L434.5,640.2 L436.0,642.7 L437.5,645.1 L439.0,652.6 L440.5,662.8 L441.2,670.8 L441.2,748.8 Z" fill="#8fc687"/>
<path d="M441.2,748.8 L441.2,657.1 L442.8,651.8 L444.2,644.4 L445.8,633.0 L447.2,621.9 L448.8,615.9 L450.2,612.1 L451.8,614.3 L453.2,616.5 L454.8,614.3 L456.2,609.9 L457.8,607.0 L459.2,611.4 L460.8,615.8 L462.2,619.5 L463.8,622.8 L465.2,626.1 L466.8,629.5 L468.2,632.8 L469.8,634.7 L471.2,635.9 L472.8,637.0 L474.2,638.1 L475.8,639.3 L477.2,641.9 L478.8,645.4 L478.8,748.8 Z" fill="#5c96d2"/>
<path d="M478.8,748.8 L478.8,658.3 L480.2,650.7 L481.8,645.3 L483.2,644.0 L484.8,642.8 L486.2,647.8 L487.8,654.0 L489.2,660.9 L490.8,668.8 L492.2,676.9 L493.8,681.8 L495.2,686.0 L496.8,694.1 L498.2,710.5 L499.8,734.5 L501.2,742.8 L502.8,742.8 L504.2,742.8 L505.8,742.8 L507.2,742.8 L508.8,742.8 L510.2,735.2 L511.8,714.6 L513.2,686.8 L514.8,671.5 L516.2,661.5 L517.8,659.6 L519.2,659.6 L520.0,661.5 L520.0,748.8 Z" fill="#c48ccb"/>
<path d="M520.0,748.8 L520.0,651.4 L521.5,633.9 L523.0,620.2 L524.5,613.5 L526.0,614.3 L527.5,618.7 L529.0,623.6 L530.5,630.4 L532.0,637.9 L533.5,646.1 L535.0,654.4 L536.5,663.0 L538.0,671.8 L539.5,685.2 L541.0,704.3 L542.5,742.8 L543.5,742.8 L543.5,748.8 Z" fill="#eb5c68"/>
<path d="M547.0,748.8 L547.0,742.8 L548.5,704.9 L550.0,692.2 L551.5,698.0 L553.0,704.1 L554.5,705.6 L556.0,702.5 L557.5,699.5 L559.0,692.2 L560.5,685.1 L562.0,679.7 L563.5,675.6 L565.0,671.7 L566.5,665.2 L568.0,658.9 L569.5,648.4 L571.0,634.1 L572.5,630.3 L574.0,630.5 L575.5,640.6 L575.5,748.8 Z" fill="#eb5c68"/>
<path d="M575.5,748.8 L575.5,633.4 L577.0,627.1 L578.5,626.2 L580.0,627.8 L581.2,633.4 L581.2,748.8 Z" fill="#5c96d2"/>
<path d="M68.6 628.6 68.6 636.2 69.5 630.4 69.9 641.1 69.7 694.7 71.8 713.5 71.3 657.7 72.2 715.6 72.7 658.3 72.7 701.9 73.8 633.0 74.1 656.9 74.2 634.8 74.9 658.2 75.7 647.0 76.8 701.9 76.2 649.1 77.3 673.5 78.8 667.1 79.8 645.2 79.3 706.5 80.0 656.6 81.8 669.7 82.6 717.3 83.2 689.1 83.5 727.9 85.0 688.6 86.2 702.1 86.6 713.0 88.4 688.9 89.1 685.9 90.4 716.0 91.8 733.4 93.1 739.5 95.2 732.4 97.0 740.2 99.6 721.3 100.4 708.6 100.2 694.4 101.5 712.8 103.5 723.9 104.1 709.9 105.3 686.6 106.2 654.9 106.2 655.0 107.9 667.8 108.0 727.9 109.9 656.3 108.0 646.8 109.3 677.3 110.0 716.5 111.2 717.2 112.0 692.9 112.2 674.0 112.6 666.4 112.4 655.0 115.0 682.7 116.9 642.5 116.7 718.2 116.3 679.3 117.1 633.8 120.6 728.8 121.7 654.1 121.1 638.5 123.3 664.4 122.6 642.6 123.3 677.3 124.6 680.5 125.8 652.1 125.5 700.0 127.3 650.3 127.8 718.9 129.3 651.6 129.3 728.7 130.1 671.0 131.7 650.3 132.0 680.2 132.0 706.4 133.8 642.3 134.5 654.5 135.1 683.4 135.5 668.9 137.8 660.7 137.1 710.0 138.2 640.3 139.3 646.2 140.3 651.3 140.4 672.1 140.1 658.8 141.5 627.0 142.8 624.7 142.1 709.8 142.1 725.9 144.4 640.6 144.0 665.9 144.7 641.0 147.0 654.3 146.3 727.5 146.4 680.0 148.7 701.5 148.0 697.1 149.4 664.8 150.9 638.2 151.9 636.3 151.1 680.2 152.6 658.1 151.6 629.3 153.4 667.6 152.8 652.2 153.4 645.0 153.6 654.6 155.5 618.3 155.7 687.5 156.4 722.0 155.7 695.2 157.1 624.1 156.5 639.4 158.6 664.2 159.0 621.9 159.9 681.5 159.5 620.2 160.3 622.5 161.9 718.0 162.8 650.9 162.3 667.4 163.0 702.6 164.1 718.9 165.9 648.0 165.3 716.6 165.9 655.1 166.5 634.7 166.4 677.4 166.4 713.2 170.4 658.1 170.4 658.4 170.0 661.5 170.8 641.0 171.0 719.8 172.0 646.0 173.1 687.4 174.2 640.7 174.4 694.9 175.7 654.9 176.2 732.8 177.7 714.8 176.8 726.4 178.6 684.1 177.9 685.0 179.8 673.9 179.4 705.0 181.3 709.7 181.5 733.9 183.1 696.0 183.7 739.9 185.4 735.2 185.5 742.2 189.2 745.3 191.0 747.3 192.7 733.0 193.1 698.8 194.7 712.9 194.2 723.3 194.4 698.6 195.3 661.3 195.0 721.2 197.0 653.1 198.4 657.7 196.8 708.1 198.2 720.7 200.7 719.3 198.9 645.2 200.5 681.0 202.6 678.8 202.4 641.7 203.0 652.4 204.0 674.7 204.9 643.0 205.5 693.7 205.9 660.3 207.7 672.8 207.0 637.6 207.5 650.6 208.5 668.6 207.9 641.0 208.6 676.0 209.2 703.5 211.6 646.7 211.2 718.9 211.6 661.0 211.8 640.4 211.8 706.7 212.6 705.4 213.7 641.8 213.4 640.2 215.6 622.2 215.3 644.8 215.0 613.6 216.5 682.2 216.2 671.6 215.9 648.2 217.4 635.3 218.5 681.9 218.4 676.0 220.3 645.9 220.6 643.7 221.3 717.6 224.1 719.5 222.8 713.5 223.5 677.3 224.0 701.2 225.8 638.8 226.6 651.5 226.3 689.7 227.0 695.9 227.6 709.3 229.2 680.5 227.8 679.9 228.4 692.8 229.5 718.4 231.0 692.7 232.9 729.2 234.1 701.9 234.1 714.8 235.8 740.5 235.5 719.6 238.2 730.5 238.4 728.1 239.3 732.8 241.0 730.1 242.6 742.7 243.7 725.8 243.4 738.2 246.1 728.3 245.3 733.3 248.1 719.9 248.9 737.8 248.3 727.0 252.0 714.6 252.0 734.5 253.6 737.0 254.4 739.6 254.8 696.7 255.8 720.9 257.0 716.2 258.9 702.4 258.9 686.8 259.2 708.5 258.3 702.6 259.4 707.1 262.0 701.7 262.5 696.8 263.2 675.6 262.9 689.5 263.3 673.3 264.5 661.4 264.9 690.8 266.2 730.3 268.9 714.8 268.6 690.9 269.1 714.6 270.3 665.8 270.8 696.9 271.3 670.1 271.0 695.3 272.7 688.8 274.5 675.0 273.5 722.3 274.5 727.5 275.0 690.5 276.4 728.9 278.3 714.4 279.5 716.7 279.2 701.5 279.7 710.7 281.5 696.3 282.5 719.1 284.4 717.0 283.7 736.2 285.0 729.4 286.1 713.5 286.8 723.9 287.2 707.2 288.2 705.3 289.9 736.3 290.2 712.6 291.0 691.2 292.8 710.2 293.8 711.0 294.2 691.4 295.3 683.1 294.7 674.6 296.6 700.2 297.0 676.6 299.2 720.0 298.8 733.8 299.5 700.1 300.5 687.2 300.0 709.4 301.4 724.1 302.2 653.2 303.2 693.1 304.7 682.0 305.8 681.6 305.7 650.7 306.0 699.2 306.7 649.2 307.6 708.0 307.5 678.3 308.3 726.3 307.7 694.2 311.3 658.9 312.5 715.2 311.5 711.7 313.9 733.2 313.9 671.0 314.6 724.8 315.9 671.9 317.7 672.5 318.8 729.2 319.0 713.9 320.3 668.4 321.2 709.1 321.9 656.4 321.4 685.8 324.3 686.9 324.0 688.5 324.3 698.4 326.0 698.7 326.3 660.9 326.7 709.4 326.2 671.7 327.1 684.4 327.1 695.9 327.1 667.9 329.4 617.7 328.0 604.1 329.8 606.8 330.1 587.6 329.6 629.1 330.3 651.7 331.0 627.5 332.6 687.8 331.4 686.2 332.5 583.4 333.9 700.9 333.4 655.7 334.2 585.0 335.0 590.7 335.0 666.8 335.5 647.0 335.3 609.9 336.6 608.9 338.0 611.2 340.2 662.8 341.1 679.0 342.1 731.4 341.7 724.0 343.0 688.4 343.5 722.9 345.3 666.7 344.9 714.0 346.4 682.7 348.3 704.0 350.3 724.1 351.3 740.0 352.2 743.2 353.2 741.1 353.1 745.7 355.6 746.4 354.8 744.7 357.2 736.0 358.9 712.8 361.3 673.5 362.7 688.7 363.5 688.7 363.5 683.4 365.2 681.1 366.7 697.8 367.1 687.1 367.0 651.2 369.0 651.5 369.7 659.2 370.6 650.1 370.0 673.5 370.5 661.7 372.6 668.6 371.4 693.1 373.0 645.6 373.4 652.0 375.5 659.7 376.4 648.2 379.5 695.3 378.8 614.6 378.5 665.7 380.2 715.3 381.4 662.4 382.0 674.8 382.5 662.5 381.9 635.8 382.9 663.2 383.4 658.7 384.5 647.5 384.8 638.9 384.8 710.6 386.4 636.2 386.5 699.9 387.8 702.6 388.5 678.6 389.3 658.9 389.3 718.0 390.4 718.7 388.7 628.7 391.4 653.3 391.2 670.1 390.9 643.3 392.3 617.9 391.6 622.2 393.2 650.1 394.4 645.4 393.8 666.6 396.4 675.1 395.2 698.5 396.5 681.2 397.0 694.3 398.5 688.5 399.9 719.5 401.1 709.3 402.4 720.2 402.7 718.9 403.0 723.7 404.3 729.2 406.5 730.1 408.5 744.8 410.1 742.1 411.0 744.5 413.1 746.3 415.1 738.0 415.8 744.1 416.9 723.3 417.4 732.9 417.5 723.5 420.4 697.1 420.1 712.2 420.5 730.9 422.4 699.1 422.6 675.7 423.4 681.1 424.0 687.4 423.8 687.1 424.8 695.8 425.8 687.2 427.0 728.5 427.9 673.1 428.9 657.1 429.6 718.0 430.9 677.3 431.2 683.8 433.4 655.9 433.5 689.5 433.4 688.5 433.7 712.9 435.0 688.5 435.3 649.6 434.7 653.0 437.4 711.8 438.8 654.7 439.2 687.2 439.6 682.6 439.3 720.9 442.2 698.9 442.5 687.5 444.0 664.0 443.4 722.5 444.9 696.6 447.0 636.3 447.9 623.8 446.5 727.1 448.9 657.3 449.1 673.2 449.8 645.9 449.5 724.3 450.6 615.9 449.9 613.2 452.0 638.0 451.1 634.1 452.1 631.3 452.0 724.7 453.0 668.8 453.8 658.4 454.1 639.0 453.6 688.1 454.6 705.1 455.5 676.8 457.2 652.9 458.2 627.8 457.4 722.8 457.5 619.0 459.1 615.7 459.4 659.2 460.0 617.4 461.5 625.4 462.1 668.0 462.2 629.9 464.0 656.7 462.4 675.1 465.2 656.2 464.0 642.8 465.5 677.0 466.1 677.9 466.7 695.3 466.7 690.1 469.1 725.9 467.7 656.9 470.0 672.0 469.7 664.1 470.7 639.6 470.9 649.3 471.2 711.8 472.9 655.1 473.4 658.8 473.3 648.3 474.4 657.2 476.0 653.9 476.3 652.1 476.5 716.1 477.9 713.1 479.8 697.6 480.3 690.9 480.9 691.6 482.1 647.5 483.7 654.5 484.4 717.5 484.4 729.5 484.1 645.1 485.2 647.4 486.4 654.4 486.9 655.5 487.5 661.2 488.2 701.1 488.5 670.2 488.8 691.8 489.9 665.0 491.7 706.2 491.4 722.5 492.9 687.5 493.5 705.4 494.7 718.2 494.7 720.9 495.1 728.3 495.7 701.1 496.9 705.7 497.8 709.2 498.1 730.0 500.0 746.0 499.8 744.0 503.4 745.4 508.4 746.6 508.3 745.1 509.8 744.8 513.0 704.4 514.3 678.4 514.4 672.1 515.2 666.7 517.4 687.1 516.4 701.2 517.1 720.4 518.4 705.1 518.1 665.7 520.1 642.7 522.0 727.9 523.0 678.8 524.3 689.3 524.3 655.5 524.5 716.5 524.2 661.6 525.2 685.8 525.3 677.8 527.5 718.9 526.6 640.6 527.2 647.1 528.8 631.1 529.5 644.1 529.7 643.7 531.9 635.0 530.7 660.0 532.4 683.1 532.1 666.7 534.1 717.5 534.8 649.6 534.3 663.8 536.3 701.2 538.0 691.9 538.8 680.6 538.9 689.0 540.7 730.4 540.0 737.4 541.9 742.2 548.0 734.1 550.0 698.7 550.6 720.8 552.4 722.0 552.7 730.9 555.9 703.4 556.0 733.3 558.6 699.5 558.7 708.3 559.2 698.2 560.7 709.0 562.4 708.0 563.6 726.4 563.5 695.5 564.6 685.0 564.3 708.2 565.1 678.0 565.0 680.6 567.8 709.0 566.9 703.7 567.7 711.2 568.2 659.3 569.6 689.6 568.4 661.7 570.9 717.5 569.3 645.7 571.5 696.3 570.3 729.6 573.0 639.1 572.3 705.9 573.1 681.6 573.7 725.4 574.6 702.1 577.0 649.2 576.8 724.9 579.3 643.9 579.3 629.8 580.3 686.5 578.6 634.5" fill="none" stroke="none" marker-start="url(#mw)" marker-mid="url(#mw)" marker-end="url(#mw)"/>
<path d="M67.2 624.8 68.9 624.9 69.9 619.1 70.0 615.8 72.4 614.4 73.2 635.0 74.7 624.1 75.5 634.8 76.4 640.8 77.3 641.3 78.2 636.4 79.9 647.5 80.1 644.6 81.2 648.0 82.5 650.3 83.8 633.2 84.3 638.3 85.9 638.3 86.9 656.2 87.1 662.3 88.2 645.9 89.8 678.1 91.0 683.2 91.7 697.8 92.8 693.0 92.9 700.2 93.8 705.8 93.2 695.0 94.8 722.6 94.5 733.5 95.3 722.6 95.1 724.2 96.0 700.6 96.5 691.1 97.9 714.7 97.1 685.1 98.2 704.4 98.3 697.6 99.7 700.2 100.6 687.8 101.7 685.3 102.8 647.1 103.3 651.9 104.7 639.0 105.5 645.0 106.1 648.9 107.6 638.0 108.3 633.0 109.5 641.2 111.5 631.6 112.6 613.9 113.4 628.5 114.1 617.0 115.2 608.8 116.8 627.8 118.6 626.9 310.5 639.3 311.9 650.5 312.8 653.3 313.5 652.0 314.4 661.2 314.9 641.6 315.2 664.0 316.8 651.1 317.8 654.1 317.2 657.7 318.5 643.6 319.4 624.0 320.2 647.7 321.1 636.0 322.3 642.8 323.3 637.4 325.0 638.8 325.5 623.8 326.5 623.5 327.6 617.8 328.6 588.3 329.8 589.1 331.0 576.5 331.8 577.4 332.5 571.3 333.9 582.9 334.6 588.0 335.4 575.9 336.3 591.7 337.2 601.6 520.6 640.7 521.4 635.3 522.8 604.6 523.9 599.5 524.3 599.3 525.9 608.9 526.5 611.0 527.9 590.7 528.4 608.9 529.8 616.0 530.0 630.6 531.7 632.7 532.5 634.8 533.8 633.5 534.7 648.9 535.7 659.7 536.6 649.9 537.7 663.2 539.0 677.2 539.3 686.2 540.5 672.1 541.2 709.8 541.7 713.1 542.8 711.9 547.9 731.7 548.4 667.5 548.3 703.1 549.3 689.4 549.5 686.4 550.5 695.2 551.2 685.5 551.2 687.3 552.0 693.9 552.5 692.9 553.8 670.4 553.4 681.5 554.4 690.4 554.1 703.5 555.7 683.7 555.4 704.2 556.5 678.6 556.7 673.5 557.6 699.6 557.8 654.5 558.2 691.2 558.5 696.1 559.7 682.8 560.6 643.8 561.7 683.1 562.8 676.6 563.5 667.4 563.3 665.8 564.3 671.8 564.0 640.2 565.7 631.7 566.9 663.3 567.4 653.2 568.9 642.8 569.4 650.2 570.7 637.5 570.1 641.7 571.8 634.0 572.2 610.6 573.0 609.7 574.7 633.3 81.2 613.8 95.0 642.5 90.0 651.2 92.5 666.2 316.2 617.5 312.5 642.5 540.0 652.5 562.5 652.5" fill="none" stroke="none" marker-start="url(#mr)" marker-mid="url(#mr)" marker-end="url(#mr)"/>
<path d="M121.9 621.9 122.1 619.5 123.4 627.1 127.7 613.3 128.0 631.9 130.4 629.5 131.7 634.7 134.5 639.5 135.8 644.3 136.1 630.4 139.3 625.9 141.9 617.7 142.8 616.6 144.2 623.3 146.9 637.4 147.6 625.4 148.2 632.6 149.2 636.7 150.2 624.0 154.6 618.0 155.1 618.8 156.2 612.9 157.0 610.4 158.9 615.0 159.8 614.4 161.9 613.9 162.5 612.6 163.7 606.0 164.3 599.4 166.0 604.0 166.7 606.0 167.8 604.3 339.0 619.6 340.0 609.8 340.9 632.2 342.7 640.8 343.6 640.1 344.0 648.4 345.0 635.8 346.0 674.2 347.2 673.6 348.0 689.0 349.6 694.9 350.5 689.2 350.8 678.2 351.6 696.6 352.5 724.9 352.7 719.2 352.8 735.5 353.6 710.7 353.9 737.3 354.1 729.6 355.1 738.2 355.3 703.7 356.4 706.1 356.7 738.4 357.3 730.4 357.5 710.1 358.3 700.0 359.1 701.6 359.6 701.4 359.8 643.1 361.5 657.1 361.9 646.5 362.9 632.9 364.7 635.2 365.3 643.5 366.7 629.9 367.7 642.7 368.3 638.0 369.1 632.7 370.5 625.3 371.1 636.1 372.7 628.8 372.8 629.0 374.6 618.3 351.2 652.5 352.5 670.0" fill="none" stroke="none" marker-start="url(#my)" marker-mid="url(#my)" marker-end="url(#my)"/>
<path d="M169.5 601.8 170.3 598.7 171.6 594.2 172.4 616.8 173.3 623.2 173.7 627.6 174.1 638.4 174.8 629.6 175.9 643.3 177.5 625.4 177.9 655.7 179.0 664.0 180.2 659.4 180.0 662.8 180.8 672.5 182.1 685.9 182.1 671.3 183.0 697.1 184.2 677.4 184.3 709.7 185.4 713.7 184.8 679.6 186.2 722.5 186.2 739.2 187.1 738.4 187.1 734.2 188.2 738.6 188.8 710.6 190.7 736.9 190.0 714.8 191.4 742.5 191.5 700.4 191.9 675.7 192.1 708.6 193.5 680.4 194.0 652.4 195.7 659.4 196.6 646.9 197.1 621.3 198.7 643.3 199.3 641.6 200.3 641.2 200.9 636.8 201.5 639.8 201.8 636.3 203.6 637.5 204.3 634.5 205.2 634.3 206.0 618.9 206.6 629.4 207.7 614.0 208.1 618.5 209.5 633.3 210.2 614.6 211.6 603.6 212.5 627.3 213.6 619.3 214.2 616.6 215.4 611.0 216.5 589.9 216.9 599.9 218.5 599.4 219.0 592.8 219.8 581.6 378.0 590.1 378.5 612.3 379.0 594.4 380.3 583.7 379.5 611.9 381.2 609.7 382.1 610.3 382.5 594.2 383.5 597.1 384.6 599.2 385.8 594.6 386.8 601.5 388.4 586.3 389.0 598.3 390.3 610.1 391.2 597.5 391.6 608.0 392.9 608.1 393.7 611.4 394.2 600.5 395.5 614.0 395.3 636.4 396.0 654.3 397.3 635.4 398.4 650.4 397.8 649.7 399.0 651.3 398.6 634.5 399.5 665.4 400.5 673.2 400.9 704.8 401.2 698.2 402.4 708.6 402.1 676.4 403.0 703.2 402.9 694.1 403.7 685.1 403.8 683.1 404.8 719.3 405.4 715.8 406.4 720.7 406.5 715.8 407.2 730.6 406.9 717.7 407.5 718.5 408.4 717.0 407.7 732.0 409.4 686.7 409.5 695.0 409.7 705.1 409.6 735.8 410.4 689.2 411.3 728.8 410.9 727.9 411.5 740.9 412.2 714.6 412.6 723.7 413.2 707.4 412.8 732.8 413.6 699.2 414.4 741.1 413.7 742.6 415.1 729.5 414.9 728.6 415.1 735.1 415.7 697.2 416.2 718.8 416.7 690.8 416.7 688.0 418.4 667.7 418.2 698.9 419.4 688.7 418.9 660.8 420.0 672.9 420.1 677.2 420.8 674.0 422.2 657.8 423.1 668.0 422.8 663.7 423.6 671.9 423.7 672.4 425.3 637.8 425.2 648.6 426.4 670.0 426.3 658.2 426.9 640.6 427.9 632.6 428.3 649.7 428.7 649.4 429.8 628.9 430.1 642.2 430.9 647.2 432.1 629.9 432.3 641.6 433.4 610.0 433.6 610.8 435.3 628.4 436.1 623.0 436.8 621.5 437.9 642.9 439.3 623.9 440.4 649.3 181.2 637.5 187.5 652.5 197.5 600.0 205.0 610.0 407.5 657.5 413.8 662.5 415.0 692.5 404.5 625.0" fill="none" stroke="none" marker-start="url(#mg)" marker-mid="url(#mg)" marker-end="url(#mg)"/>
<path d="M222.1 611.1 221.3 594.2 222.3 615.7 223.4 615.7 225.0 616.9 225.0 622.3 226.1 603.6 226.8 627.7 227.0 616.5 228.1 671.8 227.6 664.5 228.8 678.5 228.5 679.2 229.3 683.8 229.8 675.1 230.5 680.8 231.1 687.2 232.1 678.0 231.5 689.1 232.9 684.5 233.2 674.2 234.2 691.9 234.2 645.9 235.0 694.5 235.0 699.5 235.7 702.2 235.4 682.3 236.0 697.8 236.3 711.0 237.1 659.0 237.8 677.8 237.6 662.6 238.6 695.2 239.2 716.6 239.7 694.6 239.8 722.3 240.7 693.7 241.1 702.5 241.0 716.8 241.3 714.4 241.3 696.8 242.5 666.1 242.5 675.8 243.9 713.1 243.4 716.4 245.0 712.0 244.6 707.7 244.8 671.8 246.2 655.8 245.4 705.0 246.5 713.3 246.3 707.1 247.4 689.7 247.7 709.5 248.2 674.7 248.5 672.1 248.4 714.3 250.1 689.1 249.3 707.1 249.7 672.5 250.5 701.5 250.5 700.9 252.2 670.3 251.6 702.1 251.8 704.7 252.9 651.4 252.7 678.8 253.9 666.8 254.0 692.1 254.4 688.0 254.3 655.1 255.6 687.0 255.6 649.2 256.8 665.2 256.9 629.1 258.0 673.2 257.4 649.2 258.6 635.1 260.2 663.1 259.9 656.6 260.5 651.7 261.1 661.1 261.7 651.6 261.5 659.3 263.2 630.8 262.3 652.7 263.9 633.1 263.9 658.6 264.8 654.6 265.7 663.8 265.7 645.4 267.2 665.4 266.5 668.3 441.7 651.1 443.2 643.9 444.2 624.8 444.6 640.4 445.8 633.6 447.0 612.0 448.2 611.1 449.2 617.6 449.9 601.9 451.2 588.4 452.9 614.7 454.4 610.0 455.9 610.3 456.4 604.3 458.2 596.0 459.2 604.7 460.0 611.2 460.9 617.7 461.8 605.6 463.1 623.3 464.8 623.0 466.0 628.2 467.1 620.3 467.3 624.9 469.7 634.4 470.7 628.2 473.1 611.4 474.3 638.1 476.1 621.4 477.1 616.6 477.5 622.5 575.8 628.1 577.5 615.3 578.1 620.8 579.1 605.6 579.9 620.5 225.0 627.5 236.2 631.2 245.0 647.5 251.2 651.2" fill="none" stroke="none" marker-start="url(#mb)" marker-mid="url(#mb)" marker-end="url(#mb)"/>
<path d="M267.8 668.8 267.8 658.9 269.4 638.8 268.5 665.5 269.9 663.8 269.9 638.6 270.6 666.7 271.2 650.0 271.9 662.2 271.6 638.5 272.7 624.6 272.8 665.2 273.5 646.5 273.8 655.6 275.0 670.1 275.3 627.5 275.5 656.9 275.8 676.9 276.6 667.9 278.4 641.2 278.1 676.3 279.4 635.8 278.9 667.5 280.4 666.8 279.6 679.5 281.3 657.8 281.3 657.9 282.3 671.5 281.7 692.0 282.5 696.8 283.0 640.9 284.3 683.3 283.5 679.6 284.7 673.0 285.2 645.1 286.3 676.1 286.4 654.4 287.0 657.6 287.3 687.1 288.0 647.5 288.0 664.7 288.8 698.4 289.3 673.5 289.9 687.8 290.2 677.6 291.1 668.9 290.8 687.7 291.9 670.6 293.1 665.1 292.8 669.2 294.5 676.3 294.1 654.4 294.8 648.6 295.1 631.8 295.9 658.8 296.2 639.8 297.2 660.8 298.4 645.7 299.2 657.3 299.4 663.8 300.1 657.7 300.1 650.6 300.9 659.9 301.8 645.8 302.8 636.5 303.5 644.9 303.8 633.4 304.0 617.8 305.2 636.5 305.7 622.9 307.1 640.2 307.8 632.9 309.0 641.4 309.3 646.0 478.9 645.9 479.5 639.5 480.0 645.8 480.9 634.6 481.8 639.8 483.6 627.5 484.1 627.3 484.7 618.3 484.9 617.4 485.5 637.2 486.2 629.8 487.1 640.9 488.4 653.8 489.7 649.1 489.7 662.5 490.4 664.0 490.6 665.6 490.9 673.1 492.1 640.2 492.0 656.1 493.4 676.0 493.2 663.7 493.8 683.7 494.0 678.1 495.4 661.1 495.1 682.5 496.4 643.7 496.0 653.1 497.4 697.8 496.8 694.2 497.8 703.4 498.0 677.0 499.1 712.6 498.8 698.0 499.8 684.1 500.3 722.6 500.9 713.0 501.2 717.6 502.6 727.4 502.2 737.5 503.2 700.4 503.4 731.0 504.1 726.2 505.2 742.9 505.9 707.8 505.8 737.2 507.0 719.7 507.6 724.3 508.7 721.5 508.2 679.1 508.8 730.0 508.8 684.0 510.1 703.8 509.8 685.8 511.0 711.9 511.7 715.8 511.1 673.9 512.1 656.1 511.8 706.5 513.2 687.2 514.1 648.4 514.8 660.8 515.8 661.7 517.2 656.1 518.7 629.7 519.0 644.5 519.6 649.8 275.0 636.2 282.5 640.0 287.5 642.5 291.2 630.0 295.0 628.8 495.0 630.0 500.0 645.0 503.8 651.2 507.5 652.5 497.5 685.0 500.0 692.5" fill="none" stroke="none" marker-start="url(#mp)" marker-mid="url(#mp)" marker-end="url(#mp)"/>
<ellipse cx="207.5" cy="488.8" rx="3.40" ry="5.60" fill="#8fc687"/>
<ellipse cx="216.2" cy="523.2" rx="3.40" ry="5.60" fill="#8fc687"/>
<ellipse cx="220.8" cy="549.5" rx="3.40" ry="5.60" fill="#8fc687"/>
<ellipse cx="177.5" cy="565.8" rx="3.40" ry="5.60" fill="#8fc687"/>
<ellipse cx="171.2" cy="586.2" rx="3.40" ry="5.60" fill="#8fc687"/>
<ellipse cx="198.8" cy="583.8" rx="3.40" ry="5.60" fill="#8fc687"/>
<ellipse cx="203.0" cy="580.0" rx="3.40" ry="5.60" fill="#8fc687"/>
<ellipse cx="217.5" cy="585.0" rx="3.40" ry="5.60" fill="#8fc687"/>
<ellipse cx="435.8" cy="508.2" rx="3.40" ry="5.60" fill="#8fc687"/>
<ellipse cx="433.8" cy="550.5" rx="3.40" ry="5.60" fill="#8fc687"/>
<ellipse cx="423.2" cy="557.5" rx="3.40" ry="5.60" fill="#8fc687"/>
<ellipse cx="380.0" cy="565.0" rx="3.40" ry="5.60" fill="#8fc687"/>
<ellipse cx="420.8" cy="576.2" rx="3.40" ry="5.60" fill="#8fc687"/>
<ellipse cx="382.0" cy="580.0" rx="3.40" ry="5.60" fill="#8fc687"/>
<ellipse cx="247.5" cy="487.0" rx="3.40" ry="5.60" fill="#5c96d2"/>
<ellipse cx="265.0" cy="520.5" rx="3.40" ry="5.60" fill="#5c96d2"/>
<ellipse cx="267.5" cy="560.5" rx="3.40" ry="5.60" fill="#5c96d2"/>
<ellipse cx="267.5" cy="574.5" rx="3.40" ry="5.60" fill="#5c96d2"/>
<ellipse cx="265.5" cy="591.8" rx="3.40" ry="5.60" fill="#5c96d2"/>
<ellipse cx="225.5" cy="593.0" rx="3.40" ry="5.60" fill="#5c96d2"/>
<ellipse cx="464.0" cy="515.8" rx="3.40" ry="5.60" fill="#5c96d2"/>
<ellipse cx="454.2" cy="546.2" rx="3.40" ry="5.60" fill="#5c96d2"/>
<ellipse cx="454.2" cy="552.5" rx="3.40" ry="5.60" fill="#5c96d2"/>
<ellipse cx="466.2" cy="571.2" rx="3.40" ry="5.60" fill="#5c96d2"/>
<ellipse cx="449.0" cy="578.0" rx="3.40" ry="5.60" fill="#5c96d2"/>
<ellipse cx="100.0" cy="540.0" rx="3.40" ry="5.60" fill="#eb5c68"/>
<ellipse cx="73.8" cy="574.5" rx="3.40" ry="5.60" fill="#eb5c68"/>
<ellipse cx="70.0" cy="583.8" rx="3.40" ry="5.60" fill="#eb5c68"/>
<ellipse cx="73.8" cy="587.5" rx="3.40" ry="5.60" fill="#eb5c68"/>
<ellipse cx="95.0" cy="591.2" rx="3.40" ry="5.60" fill="#eb5c68"/>
<ellipse cx="95.0" cy="608.8" rx="3.40" ry="5.60" fill="#eb5c68"/>
<ellipse cx="117.5" cy="596.2" rx="3.40" ry="5.60" fill="#eb5c68"/>
<ellipse cx="336.2" cy="530.0" rx="3.40" ry="5.60" fill="#eb5c68"/>
<ellipse cx="336.2" cy="540.0" rx="3.40" ry="5.60" fill="#eb5c68"/>
<ellipse cx="332.5" cy="551.2" rx="3.40" ry="5.60" fill="#eb5c68"/>
<ellipse cx="337.5" cy="552.5" rx="3.40" ry="5.60" fill="#eb5c68"/>
<ellipse cx="331.2" cy="562.5" rx="3.40" ry="5.60" fill="#eb5c68"/>
<ellipse cx="337.5" cy="570.0" rx="3.40" ry="5.60" fill="#eb5c68"/>
<ellipse cx="308.8" cy="592.5" rx="3.40" ry="5.60" fill="#eb5c68"/>
<ellipse cx="531.2" cy="529.2" rx="3.40" ry="5.60" fill="#eb5c68"/>
<ellipse cx="527.5" cy="537.5" rx="3.40" ry="5.60" fill="#eb5c68"/>
<ellipse cx="530.0" cy="579.2" rx="3.40" ry="5.60" fill="#eb5c68"/>
<ellipse cx="536.2" cy="579.2" rx="3.40" ry="5.60" fill="#eb5c68"/>
<ellipse cx="569.5" cy="591.8" rx="3.40" ry="5.60" fill="#eb5c68"/>
<ellipse cx="162.0" cy="557.0" rx="3.40" ry="5.60" fill="#f7c35a"/>
<ellipse cx="142.0" cy="565.0" rx="3.40" ry="5.60" fill="#f7c35a"/>
<ellipse cx="131.2" cy="593.8" rx="3.40" ry="5.60" fill="#f7c35a"/>
<ellipse cx="121.2" cy="597.5" rx="3.40" ry="5.60" fill="#f7c35a"/>
<ellipse cx="165.8" cy="573.8" rx="3.40" ry="5.60" fill="#f7c35a"/>
<ellipse cx="165.8" cy="581.2" rx="3.40" ry="5.60" fill="#f7c35a"/>
<ellipse cx="577.0" cy="512.5" rx="3.40" ry="5.60" fill="#f7c35a"/>
<ellipse cx="365.5" cy="544.5" rx="3.40" ry="5.60" fill="#f7c35a"/>
<ellipse cx="372.5" cy="550.0" rx="3.40" ry="5.60" fill="#f7c35a"/>
<ellipse cx="373.0" cy="555.0" rx="3.40" ry="5.60" fill="#f7c35a"/>
<ellipse cx="348.2" cy="571.2" rx="3.40" ry="5.60" fill="#f7c35a"/>
<ellipse cx="367.5" cy="580.0" rx="3.40" ry="5.60" fill="#f7c35a"/>
<ellipse cx="376.2" cy="583.8" rx="3.40" ry="5.60" fill="#f7c35a"/>
<ellipse cx="351.2" cy="592.5" rx="3.40" ry="5.60" fill="#f7c35a"/>
<ellipse cx="298.0" cy="563.8" rx="3.40" ry="5.60" fill="#c48ccb"/>
<ellipse cx="307.5" cy="564.5" rx="3.40" ry="5.60" fill="#c48ccb"/>
<ellipse cx="307.5" cy="570.0" rx="3.40" ry="5.60" fill="#c48ccb"/>
<ellipse cx="307.5" cy="600.0" rx="3.40" ry="5.60" fill="#c48ccb"/>
<ellipse cx="478.2" cy="545.0" rx="3.40" ry="5.60" fill="#c48ccb"/>
<ellipse cx="487.0" cy="552.0" rx="3.40" ry="5.60" fill="#c48ccb"/>
<ellipse cx="575.8" cy="552.5" rx="3.40" ry="5.60" fill="#c48ccb"/>
<ellipse cx="521.2" cy="568.2" rx="3.40" ry="5.60" fill="#c48ccb"/>
<ellipse cx="513.8" cy="576.2" rx="3.40" ry="5.60" fill="#c48ccb"/>
<ellipse cx="520.0" cy="583.8" rx="3.40" ry="5.60" fill="#c48ccb"/>
<ellipse cx="575.8" cy="586.2" rx="3.40" ry="5.60" fill="#c48ccb"/>
<ellipse cx="95.0" cy="590.0" rx="3.40" ry="5.60" fill="#eb5c68"/>
<ellipse cx="95.0" cy="608.8" rx="3.40" ry="5.60" fill="#eb5c68"/>
<ellipse cx="69.5" cy="605.0" rx="3.40" ry="5.60" fill="#eb5c68"/>
<ellipse cx="72.5" cy="585.0" rx="3.40" ry="5.60" fill="#eb5c68"/>
<ellipse cx="131.2" cy="594.5" rx="3.40" ry="5.60" fill="#f7c35a"/>
<ellipse cx="122.5" cy="597.0" rx="3.40" ry="5.60" fill="#f7c35a"/>
<ellipse cx="141.2" cy="598.8" rx="3.40" ry="5.60" fill="#f7c35a"/>
<ellipse cx="152.5" cy="598.8" rx="3.40" ry="5.60" fill="#f7c35a"/>
<ellipse cx="157.5" cy="591.2" rx="3.40" ry="5.60" fill="#f7c35a"/>
<ellipse cx="170.0" cy="587.5" rx="3.40" ry="5.60" fill="#8fc687"/>
<ellipse cx="175.0" cy="600.0" rx="3.40" ry="5.60" fill="#8fc687"/>
<ellipse cx="176.2" cy="610.0" rx="3.40" ry="5.60" fill="#8fc687"/>
<ellipse cx="198.8" cy="582.5" rx="3.40" ry="5.60" fill="#8fc687"/>
<ellipse cx="203.0" cy="580.0" rx="3.40" ry="5.60" fill="#8fc687"/>
<ellipse cx="217.5" cy="583.8" rx="3.40" ry="5.60" fill="#8fc687"/>
<ellipse cx="225.5" cy="593.0" rx="3.40" ry="5.60" fill="#5c96d2"/>
<ellipse cx="223.8" cy="601.2" rx="3.40" ry="5.60" fill="#5c96d2"/>
<ellipse cx="224.5" cy="610.0" rx="3.40" ry="5.60" fill="#5c96d2"/>
<ellipse cx="236.2" cy="613.8" rx="3.40" ry="5.60" fill="#5c96d2"/>
<ellipse cx="240.5" cy="616.2" rx="3.40" ry="5.60" fill="#5c96d2"/>
<ellipse cx="255.0" cy="618.8" rx="3.40" ry="5.60" fill="#5c96d2"/>
<ellipse cx="260.0" cy="612.5" rx="3.40" ry="5.60" fill="#5c96d2"/>
<ellipse cx="265.5" cy="591.2" rx="3.40" ry="5.60" fill="#5c96d2"/>
<ellipse cx="270.0" cy="622.5" rx="3.40" ry="5.60" fill="#c48ccb"/>
<ellipse cx="307.5" cy="600.0" rx="3.40" ry="5.60" fill="#c48ccb"/>
<ellipse cx="357.5" cy="615.0" rx="3.40" ry="5.60" fill="#f7c35a"/>
<ellipse cx="367.5" cy="615.0" rx="3.40" ry="5.60" fill="#f7c35a"/>
<ellipse cx="372.5" cy="615.0" rx="3.40" ry="5.60" fill="#f7c35a"/>
<ellipse cx="368.8" cy="593.8" rx="3.40" ry="5.60" fill="#f7c35a"/>
<ellipse cx="381.2" cy="580.0" rx="3.40" ry="5.60" fill="#8fc687"/>
<ellipse cx="390.0" cy="583.8" rx="3.40" ry="5.60" fill="#8fc687"/>
<ellipse cx="422.5" cy="630.0" rx="3.40" ry="5.60" fill="#8fc687"/>
<ellipse cx="431.2" cy="585.0" rx="3.40" ry="5.60" fill="#8fc687"/>
<ellipse cx="433.8" cy="591.2" rx="3.40" ry="5.60" fill="#8fc687"/>
<ellipse cx="430.0" cy="605.0" rx="3.40" ry="5.60" fill="#8fc687"/>
<ellipse cx="436.2" cy="606.2" rx="3.40" ry="5.60" fill="#8fc687"/>
<ellipse cx="441.8" cy="586.2" rx="3.40" ry="5.60" fill="#5c96d2"/>
<ellipse cx="449.2" cy="578.0" rx="3.40" ry="5.60" fill="#5c96d2"/>
<ellipse cx="452.5" cy="590.0" rx="3.40" ry="5.60" fill="#5c96d2"/>
<ellipse cx="465.0" cy="595.0" rx="3.40" ry="5.60" fill="#5c96d2"/>
<ellipse cx="470.0" cy="623.8" rx="3.40" ry="5.60" fill="#5c96d2"/>
<ellipse cx="478.8" cy="616.2" rx="3.40" ry="5.60" fill="#5c96d2"/>
<ellipse cx="480.0" cy="615.0" rx="3.40" ry="5.60" fill="#c48ccb"/>
<ellipse cx="486.2" cy="616.2" rx="3.40" ry="5.60" fill="#c48ccb"/>
<ellipse cx="491.2" cy="620.0" rx="3.40" ry="5.60" fill="#c48ccb"/>
<ellipse cx="501.2" cy="623.8" rx="3.40" ry="5.60" fill="#c48ccb"/>
<ellipse cx="513.8" cy="601.2" rx="3.40" ry="5.60" fill="#c48ccb"/>
<ellipse cx="523.8" cy="596.2" rx="3.40" ry="5.60" fill="#eb5c68"/>
<ellipse cx="536.2" cy="610.0" rx="3.40" ry="5.60" fill="#eb5c68"/>
<ellipse cx="537.5" cy="625.0" rx="3.40" ry="5.60" fill="#eb5c68"/>
<ellipse cx="560.0" cy="632.5" rx="3.40" ry="5.60" fill="#eb5c68"/>
<ellipse cx="563.8" cy="606.2" rx="3.40" ry="5.60" fill="#eb5c68"/>
<ellipse cx="569.5" cy="591.2" rx="3.40" ry="5.60" fill="#eb5c68"/>
<ellipse cx="572.0" cy="598.8" rx="3.40" ry="5.60" fill="#eb5c68"/>
<line x1="46.2" y1="497.60" x2="599.5" y2="497.60" stroke="#7092b5" stroke-width="1.3"/>
<path d="M47.80 476.90H600.10M47.80 756.25H600.10" stroke="#8c8c8c" stroke-width="1.80" fill="none"/>
<path d="M48.40 476.90V756.25M599.50 476.90V756.25" stroke="#a6a6a6" stroke-width="1.30" fill="none"/>
<text x="324.8" y="452.8" font-size="30.0" font-weight="bold" text-anchor="middle" textLength="149.5" lengthAdjust="spacingAndGlyphs" fill="#0d0d0d">MLM.SALOORA</text>
<text transform="translate(98.5,781.0) scale(0.630,1)" font-size="17.5" text-anchor="middle" fill="#262626" stroke="#262626" stroke-width="0.45">1</text>
<text transform="translate(148.5,781.0) scale(0.630,1)" font-size="17.5" text-anchor="middle" fill="#262626" stroke="#262626" stroke-width="0.45">2</text>
<text transform="translate(195.0,781.0) scale(0.630,1)" font-size="17.5" text-anchor="middle" fill="#262626" stroke="#262626" stroke-width="0.45">3</text>
<text transform="translate(242.5,781.0) scale(0.630,1)" font-size="17.5" text-anchor="middle" fill="#262626" stroke="#262626" stroke-width="0.45">4</text>
<text transform="translate(289.0,781.0) scale(0.630,1)" font-size="17.5" text-anchor="middle" fill="#262626" stroke="#262626" stroke-width="0.45">5</text>
<text transform="translate(328.5,781.0) scale(0.630,1)" font-size="17.5" text-anchor="middle" fill="#262626" stroke="#262626" stroke-width="0.45">6</text>
<text transform="translate(358.0,781.0) scale(0.630,1)" font-size="17.5" text-anchor="middle" fill="#262626" stroke="#262626" stroke-width="0.45">7</text>
<text transform="translate(411.0,781.0) scale(0.630,1)" font-size="17.5" text-anchor="middle" fill="#262626" stroke="#262626" stroke-width="0.45">8</text>
<text transform="translate(462.5,781.0) scale(0.630,1)" font-size="17.5" text-anchor="middle" fill="#262626" stroke="#262626" stroke-width="0.45">9</text>
<text transform="translate(501.0,781.0) scale(0.630,1)" font-size="17.5" text-anchor="middle" fill="#262626" stroke="#262626" stroke-width="0.45">10</text>
<text transform="translate(545.6,781.0) scale(0.630,1)" font-size="17.5" text-anchor="middle" fill="#262626" stroke="#262626" stroke-width="0.45">11</text>
<text transform="translate(575.0,781.0) scale(0.630,1)" font-size="17.5" text-anchor="middle" fill="#262626" stroke="#262626" stroke-width="0.45">13</text>
<text transform="translate(38.0,498.5) scale(0.750,1) rotate(-90)" font-size="15.0" text-anchor="middle" fill="#262626" stroke="#262626" stroke-width="0.45">3</text>
<text transform="translate(38.0,581.0) scale(0.750,1) rotate(-90)" font-size="15.0" text-anchor="middle" fill="#262626" stroke="#262626" stroke-width="0.45">2</text>
<text transform="translate(38.0,663.5) scale(0.750,1) rotate(-90)" font-size="15.0" text-anchor="middle" fill="#262626" stroke="#262626" stroke-width="0.45">1</text>
<text transform="translate(16.1,617.0) scale(0.710,1) rotate(-90)" font-size="24.5" text-anchor="middle" fill="#262626" stroke="#262626" stroke-width="0.3">− log<tspan font-size="16.2" dy="2.9">10</tspan><tspan dy="-2.9">( </tspan><tspan font-style="italic">p</tspan> )</text>
<path d="M703.8,747.5 L703.8,741.5 L705.2,622.9 L706.8,616.3 L708.2,616.3 L709.8,616.3 L711.2,620.0 L712.8,624.4 L714.2,627.0 L715.8,625.8 L717.2,624.7 L718.8,630.1 L720.2,636.8 L721.8,643.7 L723.2,650.6 L724.8,657.6 L726.2,664.8 L727.8,672.1 L729.2,679.2 L730.8,685.7 L732.2,692.3 L733.8,686.8 L735.2,672.1 L736.8,638.0 L738.2,627.9 L739.8,626.0 L741.2,628.3 L742.8,629.6 L744.2,626.2 L745.8,622.9 L747.2,624.7 L748.8,629.2 L750.2,633.6 L751.8,637.8 L752.0,638.5 L752.0,747.5 Z" fill="#eb5c68"/>
<path d="M752.0,747.5 L752.0,626.6 L753.5,625.2 L755.0,623.8 L756.5,628.8 L758.0,635.4 L759.5,645.6 L761.0,653.7 L762.5,660.7 L764.0,666.7 L765.5,672.8 L767.0,692.0 L768.5,724.3 L770.0,733.1 L771.5,706.0 L773.0,683.5 L774.5,677.8 L776.0,675.0 L777.5,673.8 L779.0,671.6 L780.5,664.3 L782.0,657.2 L783.5,652.5 L785.0,649.1 L786.5,646.6 L788.0,648.9 L789.5,651.2 L791.0,648.9 L792.5,644.3 L794.0,640.2 L795.5,638.5 L797.0,641.1 L797.5,643.3 L797.5,747.5 Z" fill="#f7c35a"/>
<path d="M797.5,747.5 L797.5,637.2 L799.0,633.9 L800.5,634.4 L802.0,642.7 L803.5,644.3 L805.0,642.7 L806.5,641.0 L808.0,643.2 L809.5,653.3 L811.0,663.6 L812.5,713.4 L814.0,721.1 L815.5,677.7 L817.0,644.9 L818.5,635.0 L820.0,631.7 L821.5,628.8 L823.0,627.7 L824.5,626.6 L826.0,626.3 L827.5,626.3 L829.0,626.3 L830.5,626.6 L832.0,627.4 L833.5,628.2 L835.0,629.0 L836.5,630.1 L838.0,631.2 L839.5,632.3 L841.0,633.3 L842.5,634.4 L844.0,637.7 L845.0,639.9 L845.0,747.5 Z" fill="#8fc687"/>
<path d="M845.0,747.5 L845.0,661.5 L846.5,659.6 L848.0,658.7 L849.5,660.0 L851.0,661.3 L852.5,678.3 L854.0,698.2 L855.5,709.3 L857.0,721.3 L858.5,729.2 L860.0,735.0 L861.5,739.2 L863.0,740.2 L864.5,741.2 L866.0,740.2 L867.5,738.2 L869.0,734.3 L870.5,730.5 L872.0,726.7 L873.5,720.7 L875.0,713.7 L876.5,706.9 L878.0,699.0 L879.5,691.4 L881.0,683.2 L882.5,674.9 L884.0,666.4 L885.5,656.7 L887.0,639.9 L888.5,629.7 L890.0,645.6 L890.0,747.5 Z" fill="#5c96d2"/>
<path d="M890.0,747.5 L890.0,675.5 L891.5,674.0 L893.0,672.6 L894.5,680.6 L896.0,699.1 L897.5,714.0 L899.0,721.5 L900.5,722.5 L902.0,725.5 L903.5,725.5 L905.0,724.0 L906.5,720.2 L908.0,712.7 L909.5,710.8 L911.0,716.5 L912.5,721.5 L914.0,716.5 L915.5,710.8 L917.0,704.0 L918.5,699.1 L920.0,694.3 L921.5,671.9 L923.0,638.2 L924.5,603.4 L926.0,614.4 L927.0,675.5 L927.0,747.5 Z" fill="#c48ccb"/>
<path d="M927.0,747.5 L927.0,666.8 L928.5,677.8 L930.0,689.3 L931.5,678.8 L933.0,668.7 L934.5,659.5 L936.0,651.2 L937.5,643.0 L939.0,639.6 L940.5,636.1 L942.0,631.6 L943.5,626.0 L945.0,620.4 L946.5,610.5 L948.0,603.7 L949.5,603.2 L951.0,602.6 L952.5,605.9 L953.8,609.4 L953.8,747.5 Z" fill="#eb5c68"/>
<path d="M953.8,747.5 L953.8,607.5 L955.2,609.7 L956.8,611.9 L958.2,616.8 L959.8,624.4 L961.2,632.2 L962.8,645.7 L964.2,660.9 L965.8,679.2 L967.2,698.1 L968.8,719.0 L970.2,734.1 L971.8,704.7 L973.2,678.5 L974.8,653.2 L976.2,643.5 L977.8,636.7 L979.2,631.1 L980.8,627.8 L982.2,624.4 L983.8,624.8 L985.2,625.9 L986.8,628.3 L988.2,633.3 L989.8,637.2 L990.0,637.8 L990.0,747.5 Z" fill="#f7c35a"/>
<path d="M990.0,747.5 L990.0,657.0 L991.5,657.0 L993.0,657.0 L994.5,659.0 L996.0,663.0 L997.5,667.0 L999.0,673.9 L1000.5,681.0 L1002.0,688.3 L1003.5,695.9 L1005.0,703.8 L1006.5,708.8 L1008.0,713.8 L1009.5,720.0 L1011.0,727.3 L1012.5,731.5 L1014.0,733.5 L1015.5,735.5 L1017.0,736.0 L1018.5,735.0 L1020.0,734.0 L1021.5,732.0 L1023.0,730.0 L1024.5,727.3 L1026.0,721.8 L1027.5,716.4 L1029.0,703.0 L1030.5,690.6 L1032.0,681.0 L1033.5,673.9 L1035.0,667.0 L1036.5,657.0 L1038.0,647.3 L1039.5,637.9 L1041.0,631.5 L1042.5,626.6 L1044.0,622.8 L1045.5,624.0 L1047.0,625.2 L1048.5,629.3 L1050.0,634.8 L1050.0,747.5 Z" fill="#8fc687"/>
<path d="M1050.0,747.5 L1050.0,618.8 L1051.5,627.1 L1053.0,629.9 L1054.5,621.6 L1056.0,612.3 L1057.5,602.5 L1059.0,603.6 L1060.5,604.7 L1062.0,607.9 L1063.5,613.4 L1065.0,618.8 L1066.5,627.7 L1068.0,636.6 L1069.5,644.0 L1071.0,649.8 L1072.5,655.6 L1074.0,657.9 L1075.5,660.3 L1077.0,658.8 L1078.5,653.5 L1080.0,651.2 L1081.2,649.8 L1081.2,747.5 Z" fill="#5c96d2"/>
<path d="M1081.2,747.5 L1081.2,671.2 L1082.8,639.7 L1084.2,621.3 L1085.8,624.9 L1087.2,635.9 L1088.8,651.1 L1090.2,671.2 L1091.8,691.4 L1093.2,710.6 L1094.8,726.8 L1096.2,734.8 L1097.8,741.5 L1099.2,741.5 L1100.8,741.5 L1102.2,741.5 L1103.8,741.5 L1105.2,740.7 L1106.8,735.7 L1108.2,730.7 L1109.8,721.3 L1111.2,707.5 L1112.8,694.1 L1114.2,678.6 L1115.8,665.0 L1117.2,653.1 L1118.8,643.1 L1120.2,636.6 L1121.2,641.6 L1121.2,747.5 Z" fill="#c48ccb"/>
<path d="M1121.2,747.5 L1121.2,629.3 L1122.8,597.4 L1124.2,590.8 L1125.8,592.5 L1127.2,602.3 L1128.8,620.8 L1130.2,640.4 L1131.8,654.7 L1133.2,666.5 L1134.8,675.5 L1136.2,684.9 L1137.8,695.4 L1139.2,710.5 L1140.8,736.9 L1142.2,741.5 L1143.0,741.5 L1143.0,747.5 Z" fill="#eb5c68"/>
<path d="M1145.0,747.5 L1145.0,741.5 L1146.5,703.6 L1148.0,690.8 L1149.5,684.0 L1151.0,682.7 L1152.5,681.3 L1154.0,680.0 L1155.5,678.7 L1157.0,674.2 L1158.5,666.6 L1160.0,659.3 L1161.5,646.7 L1163.0,638.0 L1164.5,636.3 L1166.0,636.8 L1167.5,638.6 L1169.0,647.3 L1170.5,655.6 L1172.0,662.9 L1172.5,665.4 L1172.5,747.5 Z" fill="#eb5c68"/>
<path d="M1172.5,747.5 L1172.5,658.3 L1174.0,654.0 L1175.5,654.8 L1177.0,658.3 L1177.0,747.5 Z" fill="#5c96d2"/>
<path d="M704.2 679.0 704.7 640.9 705.0 703.4 705.3 636.9 706.5 631.9 707.3 648.8 707.8 701.4 710.4 627.8 710.0 628.7 710.8 667.2 710.7 714.7 711.0 649.5 713.3 667.9 713.9 642.4 714.3 633.5 714.4 680.4 716.2 681.4 717.2 669.3 716.5 643.2 718.0 726.2 717.8 692.2 719.6 634.6 720.0 658.2 721.2 676.2 720.6 643.6 720.9 720.3 721.0 676.3 723.0 661.1 723.0 712.7 724.9 663.9 725.7 668.2 725.8 718.7 727.7 701.8 728.5 700.8 728.9 695.7 731.7 709.4 731.6 723.5 732.0 692.9 734.0 731.7 734.9 734.5 736.6 718.1 736.9 664.1 735.9 650.0 738.0 723.5 737.0 680.0 738.5 724.3 740.2 679.0 738.8 724.5 741.3 694.9 740.5 653.6 742.2 725.7 741.0 664.1 743.6 642.1 742.9 679.6 745.5 653.5 745.5 697.6 745.7 650.3 746.1 631.1 748.0 669.2 748.1 637.2 749.5 658.3 749.4 703.3 751.4 650.7 752.9 673.9 752.9 683.8 754.4 629.0 754.5 704.4 754.8 652.2 755.3 707.6 755.9 661.6 756.8 662.9 757.9 698.3 759.1 698.1 759.1 678.4 760.5 661.1 760.2 656.3 761.5 697.1 762.4 716.8 762.6 702.7 764.9 706.5 765.7 714.4 765.3 694.7 766.9 692.3 767.2 712.0 770.6 728.3 771.4 723.9 773.7 686.4 774.0 708.2 774.3 717.2 776.0 718.2 777.9 683.0 777.1 724.6 778.3 695.2 779.8 729.7 779.6 709.7 779.2 693.3 781.5 692.1 782.9 712.1 782.8 656.2 784.4 686.1 784.0 673.7 785.2 716.6 786.0 726.4 786.9 666.0 789.0 701.5 788.1 657.8 790.1 684.4 790.1 700.3 790.0 654.8 790.4 683.5 792.7 725.0 792.5 644.0 793.7 681.4 793.9 649.8 793.6 680.8 794.9 686.9 794.8 695.4 796.6 661.6 799.5 692.2 799.9 672.5 800.4 637.6 800.3 693.5 801.3 716.0 801.8 659.7 804.3 685.4 804.1 704.1 805.5 696.5 806.4 722.1 806.3 730.7 806.3 647.0 806.6 672.7 807.4 648.5 808.1 663.3 808.7 698.4 810.8 660.2 810.5 705.7 812.3 727.1 816.5 683.8 815.6 683.5 818.2 688.2 817.7 714.1 818.0 662.9 818.7 680.8 820.5 719.9 820.9 722.4 821.0 685.4 822.4 674.2 821.2 712.0 822.8 670.3 822.4 706.0 823.1 684.9 823.9 656.4 826.5 691.6 825.0 654.7 826.3 712.7 825.9 697.3 828.4 689.5 828.1 663.4 827.8 687.8 830.4 627.7 831.3 709.3 829.9 703.9 831.8 717.2 831.8 692.5 831.8 627.9 832.5 655.5 833.3 630.2 834.1 641.4 834.8 638.7 834.7 677.4 836.6 653.3 837.2 716.1 838.1 656.1 838.9 633.3 839.7 640.6 840.2 725.8 841.2 680.7 840.8 649.9 841.6 671.1 843.3 672.9 843.5 727.1 845.0 702.1 847.8 728.8 849.7 711.4 849.7 672.8 849.8 686.4 849.6 711.8 851.3 668.9 852.5 693.4 853.1 709.0 855.0 702.6 854.0 722.5 854.4 706.3 857.8 729.4 857.5 731.1 859.8 738.2 861.2 742.3 861.4 745.3 862.0 743.9 864.2 742.9 866.6 741.0 867.2 745.2 869.0 740.8 869.3 740.6 869.1 737.1 871.7 743.7 872.1 726.5 874.8 719.2 875.0 726.5 875.3 716.2 877.8 705.1 879.7 710.4 879.5 695.4 880.7 697.8 880.2 732.9 880.4 712.7 882.5 711.0 882.9 716.8 883.1 711.2 884.8 712.7 886.4 656.4 886.2 686.4 888.2 632.7 887.8 636.1 890.2 724.6 891.5 686.1 892.2 729.9 892.0 691.8 893.9 685.5 893.4 727.7 895.1 686.7 896.3 726.0 897.7 729.1 898.1 722.8 900.0 727.8 900.5 742.2 901.2 730.7 901.8 742.8 903.2 728.2 904.9 739.4 904.6 742.7 906.7 722.7 907.0 721.7 907.1 721.1 908.6 714.2 909.1 722.9 911.8 728.4 912.9 724.7 912.1 730.1 913.6 734.8 914.3 728.5 916.2 740.9 916.6 734.8 918.8 712.6 919.8 700.5 920.8 705.0 921.1 712.4 922.7 710.1 922.3 696.9 922.3 663.7 924.8 663.2 925.1 644.5 924.8 706.5 928.1 707.9 927.1 686.1 928.8 711.7 931.3 691.3 931.8 688.0 932.2 693.6 933.3 663.6 935.6 673.7 934.8 664.9 935.7 666.6 937.1 652.4 936.9 659.1 938.2 645.2 938.9 679.7 939.6 683.7 939.7 703.8 942.0 655.9 940.3 680.1 941.3 660.2 943.1 640.8 943.2 657.6 943.1 691.2 943.1 672.2 945.3 653.8 946.1 669.7 947.2 709.8 947.8 617.1 947.3 635.6 947.2 634.3 949.8 647.7 949.5 605.1 949.9 622.4 950.5 674.6 951.5 618.3 951.6 691.4 951.4 680.9 951.6 638.0 954.1 667.0 955.3 612.8 956.0 640.6 954.9 649.5 956.0 660.0 956.4 632.6 958.4 637.2 958.0 694.5 958.9 653.8 957.9 686.4 960.0 628.1 959.4 668.9 960.7 698.9 961.2 713.7 963.7 654.1 962.1 667.4 964.4 679.8 964.6 656.0 965.4 676.4 965.2 696.2 967.4 696.0 968.2 705.6 970.7 735.4 971.0 725.5 972.3 718.6 973.2 711.0 974.3 693.9 973.9 666.8 974.2 663.3 976.1 668.1 976.5 656.9 976.8 655.8 978.5 646.5 978.7 637.5 978.2 637.7 979.5 687.8 981.2 638.1 981.0 712.2 981.3 647.9 982.5 639.3 982.2 690.6 984.2 633.2 984.4 703.1 984.4 629.6 986.1 631.1 986.4 695.0 986.1 647.4 986.8 713.7 988.6 640.4 989.1 642.0 991.2 693.1 991.1 667.2 993.6 695.6 993.7 701.6 993.7 713.5 993.9 694.3 995.6 679.2 996.7 714.1 996.4 663.9 996.1 716.9 998.1 689.9 998.3 684.4 998.7 706.9 1000.6 706.2 1001.5 717.8 1001.6 705.1 1002.7 689.2 1003.6 704.8 1004.6 703.1 1004.4 724.8 1006.9 708.9 1005.7 708.1 1007.4 735.7 1007.3 720.2 1009.4 717.9 1010.3 725.1 1011.8 739.5 1012.0 735.6 1013.5 740.0 1014.8 735.4 1015.5 738.5 1017.9 740.1 1018.9 739.9 1019.6 734.3 1021.6 740.8 1021.7 738.6 1023.1 730.5 1023.8 737.3 1025.2 726.8 1025.5 738.8 1027.9 733.5 1028.5 715.6 1028.1 707.8 1030.6 715.4 1030.7 725.0 1032.9 709.8 1032.7 687.9 1033.8 691.6 1033.3 683.5 1033.9 723.7 1035.5 688.2 1037.9 683.8 1037.7 710.8 1037.5 686.8 1039.7 658.9 1039.3 723.7 1039.8 644.9 1039.0 646.3 1041.1 688.0 1041.7 670.7 1042.1 634.9 1043.5 654.8 1043.1 658.5 1043.7 625.0 1045.9 625.5 1046.8 695.3 1046.9 646.8 1047.8 644.9 1048.4 703.6 1047.3 638.0 1051.6 635.8 1051.9 628.5 1053.0 650.0 1053.0 678.2 1052.7 645.0 1053.4 661.1 1054.1 634.9 1056.7 684.4 1056.3 624.4 1057.2 628.2 1058.5 636.2 1059.3 638.2 1058.8 666.3 1059.6 617.7 1059.2 646.9 1061.8 651.8 1061.8 699.1 1061.3 663.8 1062.2 614.1 1062.6 636.5 1062.6 694.3 1064.3 670.6 1064.4 711.1 1064.2 642.5 1066.4 683.6 1066.1 692.1 1066.5 684.1 1067.0 645.5 1067.6 697.5 1069.3 653.8 1070.0 709.9 1070.2 683.0 1072.7 701.9 1072.0 694.5 1073.3 660.3 1073.0 684.6 1074.8 696.2 1074.3 712.6 1075.4 722.0 1077.8 704.8 1077.3 708.5 1077.5 714.4 1079.5 682.7 1078.2 690.0 1080.9 667.5 1081.6 708.3 1084.2 652.7 1083.8 715.8 1084.8 662.1 1083.9 703.0 1084.7 660.3 1086.2 645.4 1086.8 717.3 1087.6 644.5 1087.3 652.2 1088.2 648.0 1089.8 700.8 1090.3 725.8 1091.6 691.5 1092.6 716.9 1094.1 712.3 1093.7 738.5 1095.6 730.9 1095.6 738.4 1097.7 740.8 1097.4 744.9 1098.8 741.9 1103.2 745.9 1104.4 742.8 1105.5 744.9 1106.3 739.3 1107.3 731.8 1109.8 729.8 1111.9 734.3 1113.1 710.5 1112.6 730.2 1113.4 686.7 1115.5 709.6 1115.5 683.7 1116.4 655.8 1118.2 684.2 1119.4 729.3 1118.5 692.8 1121.6 681.3 1122.5 680.0 1122.4 654.1 1123.6 722.5 1123.4 698.1 1123.3 705.4 1124.5 593.7 1125.6 700.2 1125.6 694.1 1126.6 615.4 1126.5 632.6 1126.5 652.8 1128.2 627.5 1127.6 659.6 1129.1 662.7 1129.4 690.0 1130.7 678.2 1130.3 656.8 1131.0 696.4 1131.4 721.5 1134.0 676.2 1134.4 700.6 1134.4 726.5 1136.9 730.7 1137.2 705.9 1138.0 727.7 1138.4 717.1 1140.9 735.5 1145.3 739.3 1147.3 724.2 1148.9 704.9 1149.1 712.3 1150.9 684.0 1151.8 719.5 1151.8 683.6 1153.3 693.6 1153.3 717.4 1154.2 692.9 1155.5 685.8 1157.0 682.4 1158.7 683.9 1159.2 710.0 1159.3 708.7 1159.8 675.1 1160.7 669.1 1161.8 665.2 1161.3 643.2 1163.9 700.8 1163.2 688.8 1164.6 651.9 1165.0 699.5 1166.4 710.1 1167.0 669.7 1166.0 712.7 1167.9 707.8 1168.3 670.5 1169.1 714.5 1169.3 679.7 1170.5 697.2 1171.7 686.6 1171.8 701.9 1173.7 680.9 1174.3 667.0 1174.1 694.7 1176.3 701.1" fill="none" stroke="none" marker-start="url(#mw)" marker-mid="url(#mw)" marker-end="url(#mw)"/>
<path d="M705.4 622.9 706.5 611.2 707.2 607.8 708.6 618.2 709.4 607.5 710.7 615.5 711.0 604.8 713.2 622.3 714.0 626.0 715.6 623.5 717.0 602.3 719.2 625.7 720.9 630.2 722.7 646.2 723.0 643.9 724.7 642.2 725.6 634.6 726.5 658.4 727.5 667.3 728.1 659.9 729.2 679.1 730.7 665.3 731.7 673.7 732.2 689.5 732.9 677.4 734.1 669.8 735.3 669.3 736.7 634.3 737.2 631.0 737.8 627.4 738.8 625.9 740.0 618.2 742.1 627.8 743.1 625.4 744.5 629.0 746.3 617.2 747.0 625.1 748.0 620.1 749.6 631.3 749.8 630.6 751.5 636.8 927.0 647.5 928.4 677.3 929.4 671.5 929.1 685.6 930.0 683.5 931.3 678.9 932.4 640.8 933.2 648.0 934.6 645.8 935.7 656.9 936.3 633.1 937.5 640.7 940.2 639.0 941.5 635.9 942.1 628.1 943.0 627.8 944.7 614.6 947.0 608.2 947.2 606.1 948.3 593.3 949.4 601.0 950.4 598.0 951.4 604.7 952.9 607.3 1121.5 618.0 1123.0 577.2 1124.8 591.2 1126.2 590.5 1126.7 596.7 1127.8 583.5 1128.8 596.0 1129.8 626.2 1130.4 642.2 1131.4 653.7 1132.3 655.0 1134.0 667.1 1133.9 667.4 1134.7 666.5 1134.5 674.6 1135.3 649.0 1137.1 660.6 1137.8 651.6 1137.3 664.4 1139.2 698.2 1140.0 701.5 1139.3 685.1 1140.5 735.6 1141.1 721.9 1140.5 730.8 1141.3 711.5 1146.3 687.5 1146.5 696.3 1147.5 660.7 1148.8 663.1 1148.0 686.7 1150.0 678.3 1149.2 663.9 1150.7 682.3 1151.1 680.0 1152.5 683.8 1154.0 665.8 1154.4 642.6 1155.6 656.3 1156.3 651.3 1157.9 667.8 1158.2 666.2 1159.3 663.0 1160.6 653.2 1161.6 643.2 1162.6 629.2 1164.2 629.5 1165.4 635.9 1166.3 635.3 1167.2 611.4 1168.1 629.6 1169.6 635.2 1170.6 648.5 1171.6 663.2 717.5 602.5 737.5 602.5 746.2 602.5 728.8 617.5 1136.2 637.5 1157.5 657.5 1150.0 657.5" fill="none" stroke="none" marker-start="url(#mr)" marker-mid="url(#mr)" marker-end="url(#mr)"/>
<path d="M752.9 626.9 753.7 612.7 755.5 622.8 756.7 630.4 759.6 638.5 760.3 645.8 761.7 656.7 762.0 653.4 763.4 637.1 764.2 671.4 765.0 653.2 766.4 670.4 767.3 686.9 767.3 698.0 768.2 696.9 769.0 717.0 769.8 702.7 769.3 723.1 770.5 708.5 770.4 713.6 772.0 693.7 772.3 685.9 773.8 665.4 773.4 668.4 774.1 680.0 775.7 670.0 776.2 677.0 778.0 661.9 778.8 670.3 778.6 673.7 779.2 670.9 780.6 666.6 781.8 652.6 783.5 648.4 784.9 652.7 785.9 649.0 787.0 637.0 787.5 630.2 788.1 650.9 789.5 641.9 790.9 632.1 791.3 644.8 792.7 629.3 793.4 635.6 794.4 639.2 795.3 626.9 796.0 637.3 953.9 611.2 955.7 610.8 955.9 611.6 956.8 613.3 959.3 617.0 960.3 609.4 962.0 642.5 963.7 647.3 964.1 660.2 965.4 660.1 965.9 668.5 966.9 696.8 967.5 697.9 968.6 709.4 968.0 686.6 969.0 707.8 970.3 716.6 970.5 731.2 971.6 703.5 971.9 692.1 973.4 660.6 974.2 653.7 974.9 642.1 976.2 646.2 978.3 629.9 979.4 629.9 980.1 631.7 981.0 627.3 982.3 609.8 983.2 616.3 985.1 626.0 986.0 619.4 986.9 620.6 988.2 625.1 758.8 625.0 772.5 610.0 773.8 620.0" fill="none" stroke="none" marker-start="url(#my)" marker-mid="url(#my)" marker-end="url(#my)"/>
<path d="M801.3 631.9 802.7 641.9 803.7 638.0 804.6 644.3 805.9 630.6 807.3 640.2 808.0 645.0 808.7 646.7 809.6 656.7 810.9 663.8 812.4 677.1 812.9 697.0 814.5 710.8 814.3 718.4 815.0 676.3 816.1 659.8 818.3 637.9 819.5 636.7 822.7 629.4 824.2 625.7 827.1 619.7 829.7 628.9 831.7 626.7 833.1 630.3 833.9 619.1 837.7 625.7 839.0 632.9 839.6 623.9 841.4 632.5 841.7 632.8 843.3 638.2 990.3 616.2 991.1 629.7 991.9 621.5 992.0 657.0 992.0 616.3 993.5 656.7 994.4 638.6 994.4 652.7 995.4 629.5 996.2 624.6 997.6 668.0 998.7 663.1 998.9 671.4 999.3 668.7 999.5 675.8 1000.2 668.7 1000.3 678.2 1001.3 688.8 1001.4 641.6 1002.4 672.1 1003.4 656.3 1003.2 675.3 1004.0 677.2 1004.2 657.7 1006.0 694.2 1006.0 698.1 1006.8 709.6 1006.1 679.9 1007.6 713.5 1007.9 684.8 1008.9 673.3 1008.2 654.4 1008.6 660.7 1010.0 717.6 1009.4 696.8 1010.1 696.7 1010.9 720.6 1011.4 680.3 1011.5 684.5 1012.5 721.9 1013.0 718.4 1013.9 701.7 1013.2 710.5 1014.0 722.9 1014.8 736.5 1015.8 699.2 1015.0 730.7 1016.7 676.6 1016.7 727.2 1016.3 695.6 1017.1 727.3 1017.1 731.2 1017.0 683.2 1018.8 668.6 1018.9 680.7 1018.8 704.3 1019.7 700.1 1019.4 724.9 1020.3 681.1 1020.7 683.3 1021.5 688.6 1021.8 690.7 1021.4 733.0 1022.6 715.8 1022.9 688.1 1022.7 708.8 1023.9 724.3 1023.4 698.3 1024.5 713.3 1024.9 728.2 1025.5 719.5 1025.1 687.5 1026.8 718.8 1026.6 669.3 1026.3 681.3 1027.4 712.8 1027.3 687.5 1027.2 685.2 1028.8 698.4 1028.5 702.7 1029.9 660.4 1029.2 670.7 1030.6 667.0 1030.1 690.6 1031.0 673.6 1031.0 644.6 1032.5 674.2 1032.7 680.0 1033.9 664.1 1034.8 623.8 1034.7 662.0 1035.4 625.6 1036.8 639.7 1036.9 631.2 1037.8 633.4 1038.9 604.0 1039.9 629.8 1040.9 616.5 1041.0 607.3 1041.3 624.5 1042.2 621.7 1042.1 602.7 1043.2 593.4 1044.4 626.1 1045.2 590.4 1046.5 585.4 1047.5 623.2 1047.8 617.2 1048.1 621.9 832.5 607.5 841.2 601.2 1007.5 645.0 1018.8 670.0 1030.0 657.5" fill="none" stroke="none" marker-start="url(#mg)" marker-mid="url(#mg)" marker-end="url(#mg)"/>
<path d="M845.3 621.2 845.3 662.4 846.4 629.5 847.3 639.3 847.3 653.0 848.0 661.7 849.8 647.7 850.9 645.1 851.8 640.2 852.3 644.1 852.6 662.7 854.0 690.2 855.0 674.8 854.2 661.1 855.9 703.5 855.2 703.7 856.9 678.4 856.9 695.2 857.3 717.7 858.0 671.9 858.9 705.2 858.9 663.4 858.6 694.1 859.9 723.6 859.6 680.5 860.1 677.3 860.7 734.3 861.1 732.0 861.6 740.5 861.2 704.9 862.6 732.9 862.4 725.8 862.3 689.4 863.2 675.1 863.7 698.7 863.0 727.6 864.3 692.3 864.5 730.4 864.3 724.4 865.0 736.2 865.2 707.7 866.1 708.2 866.8 736.5 866.4 712.9 868.0 724.0 867.1 679.5 868.5 683.8 868.5 727.9 869.5 708.3 869.3 708.8 869.2 700.3 870.5 681.5 870.9 732.4 870.6 727.1 871.6 679.9 871.2 707.5 872.0 698.5 872.8 723.6 873.6 693.0 873.6 711.4 873.8 705.5 874.7 701.4 874.9 706.1 875.5 684.0 875.3 663.9 876.1 672.8 876.2 706.3 877.2 699.5 877.2 698.7 878.4 653.8 878.4 696.2 879.5 672.7 879.2 672.0 880.9 687.1 880.8 679.1 881.6 643.1 881.7 642.9 882.3 669.0 882.4 666.0 883.8 669.0 884.2 653.1 885.1 625.9 886.6 628.1 886.0 635.6 887.7 626.9 888.2 607.1 1050.8 619.9 1051.8 616.4 1052.9 635.1 1053.4 618.2 1054.1 610.1 1056.1 596.5 1057.7 595.2 1058.7 606.0 1061.8 599.6 1063.3 614.4 1064.3 614.3 1065.5 622.2 1066.8 623.7 1067.9 629.3 1068.0 622.8 1069.2 644.3 1070.5 650.7 1071.6 651.2 1072.8 653.2 1074.0 656.2 1074.7 650.0 1076.0 658.0 1076.4 648.4 1078.5 642.7 1079.2 624.3 1080.3 651.9 1172.9 653.0 1173.5 651.6 1175.3 650.4 1176.0 642.6 857.5 640.0 868.8 657.5 877.5 640.0" fill="none" stroke="none" marker-start="url(#mb)" marker-mid="url(#mb)" marker-end="url(#mb)"/>
<path d="M890.8 649.8 890.1 677.6 892.0 663.1 891.1 676.8 892.4 647.0 892.2 646.5 893.2 638.3 893.5 663.6 894.5 634.9 894.7 665.3 895.5 673.6 895.7 695.5 895.2 660.2 896.5 693.4 896.7 675.1 896.2 657.3 897.2 696.8 897.4 674.9 897.9 663.6 898.1 678.6 898.4 699.8 899.4 703.6 899.7 709.3 900.3 656.6 900.7 715.1 900.0 714.5 901.9 694.4 901.5 697.1 901.9 668.5 902.2 689.7 902.5 719.5 903.2 703.9 904.0 700.1 904.1 689.1 904.3 681.3 904.0 691.4 905.9 704.7 905.4 678.6 906.0 709.1 906.6 672.8 906.1 699.8 907.4 668.3 907.3 711.8 908.3 707.8 908.5 678.0 908.7 703.2 910.0 694.2 909.3 691.4 910.8 709.0 910.6 661.4 911.7 685.8 911.6 691.5 912.5 715.7 912.5 720.8 913.7 656.3 913.4 719.9 913.2 664.5 914.3 676.4 914.7 660.3 914.9 706.9 915.5 683.4 915.5 696.8 916.6 693.1 916.7 707.4 916.9 702.6 917.8 662.9 917.5 689.4 918.8 650.4 918.6 679.7 919.2 688.6 919.8 640.5 920.3 635.7 920.8 657.6 921.5 652.8 921.2 662.8 922.4 639.4 922.7 624.8 923.1 619.6 923.8 606.1 925.0 595.7 925.4 574.2 925.4 562.9 1082.2 652.7 1081.5 648.2 1082.6 602.7 1083.0 637.8 1083.9 592.6 1083.8 621.6 1084.8 619.3 1086.0 599.2 1086.8 607.1 1086.5 622.0 1088.2 639.9 1089.1 642.8 1089.1 628.1 1090.1 656.9 1089.3 647.4 1090.6 653.3 1091.0 641.4 1091.8 660.7 1092.2 683.1 1093.2 650.5 1092.9 704.5 1093.3 713.8 1093.9 661.7 1094.5 709.7 1094.3 715.1 1096.2 715.8 1095.7 718.9 1096.1 702.8 1096.4 722.1 1096.4 668.7 1097.6 702.3 1097.3 700.5 1098.4 709.7 1099.2 675.9 1098.9 735.9 1099.3 704.0 1099.6 739.2 1101.0 742.5 1100.9 728.6 1102.1 741.9 1101.5 694.6 1102.7 738.9 1102.3 739.5 1103.3 698.8 1103.3 695.7 1105.2 733.3 1104.7 736.6 1105.9 731.1 1105.9 714.2 1106.0 741.0 1106.6 736.8 1106.6 731.2 1108.2 727.8 1107.9 725.7 1109.0 721.7 1108.6 719.0 1108.7 677.3 1110.1 694.5 1109.6 713.8 1110.5 714.7 1110.6 688.8 1111.7 663.6 1112.2 669.3 1112.8 666.1 1113.2 680.0 1113.7 647.3 1113.4 686.3 1114.9 669.7 1115.2 671.8 1115.3 621.8 1117.1 655.7 1116.3 638.9 1118.0 643.1 1117.7 620.1 1118.5 630.2 1119.7 621.5 895.0 628.8 907.5 647.5 910.0 660.0 898.8 668.8 905.0 670.0 1103.8 645.0 1108.8 642.5 1103.8 663.8" fill="none" stroke="none" marker-start="url(#mp)" marker-mid="url(#mp)" marker-end="url(#mp)"/>
<ellipse cx="833.8" cy="490.0" rx="3.40" ry="5.60" fill="#8fc687"/>
<ellipse cx="845.0" cy="537.5" rx="3.40" ry="5.60" fill="#8fc687"/>
<ellipse cx="800.0" cy="570.0" rx="3.40" ry="5.60" fill="#8fc687"/>
<ellipse cx="841.2" cy="568.8" rx="3.40" ry="5.60" fill="#8fc687"/>
<ellipse cx="819.2" cy="582.5" rx="3.40" ry="5.60" fill="#8fc687"/>
<ellipse cx="825.0" cy="590.0" rx="3.40" ry="5.60" fill="#8fc687"/>
<ellipse cx="841.2" cy="588.8" rx="3.40" ry="5.60" fill="#8fc687"/>
<ellipse cx="842.5" cy="586.2" rx="3.40" ry="5.60" fill="#8fc687"/>
<ellipse cx="800.0" cy="591.2" rx="3.40" ry="5.60" fill="#8fc687"/>
<ellipse cx="798.8" cy="597.5" rx="3.40" ry="5.60" fill="#8fc687"/>
<ellipse cx="1031.8" cy="537.5" rx="3.40" ry="5.60" fill="#8fc687"/>
<ellipse cx="995.8" cy="581.2" rx="3.40" ry="5.60" fill="#8fc687"/>
<ellipse cx="1044.5" cy="585.0" rx="3.40" ry="5.60" fill="#8fc687"/>
<ellipse cx="1029.5" cy="595.0" rx="3.40" ry="5.60" fill="#8fc687"/>
<ellipse cx="889.2" cy="500.5" rx="3.40" ry="5.60" fill="#5c96d2"/>
<ellipse cx="870.0" cy="508.8" rx="3.40" ry="5.60" fill="#5c96d2"/>
<ellipse cx="888.8" cy="566.2" rx="3.40" ry="5.60" fill="#5c96d2"/>
<ellipse cx="887.0" cy="577.5" rx="3.40" ry="5.60" fill="#5c96d2"/>
<ellipse cx="887.0" cy="581.2" rx="3.40" ry="5.60" fill="#5c96d2"/>
<ellipse cx="882.5" cy="598.8" rx="3.40" ry="5.60" fill="#5c96d2"/>
<ellipse cx="876.8" cy="610.0" rx="3.40" ry="5.60" fill="#5c96d2"/>
<ellipse cx="847.0" cy="605.5" rx="3.40" ry="5.60" fill="#5c96d2"/>
<ellipse cx="865.0" cy="618.0" rx="3.40" ry="5.60" fill="#5c96d2"/>
<ellipse cx="857.5" cy="624.2" rx="3.40" ry="5.60" fill="#5c96d2"/>
<ellipse cx="1067.0" cy="490.5" rx="3.40" ry="5.60" fill="#5c96d2"/>
<ellipse cx="1067.5" cy="538.8" rx="3.40" ry="5.60" fill="#5c96d2"/>
<ellipse cx="1069.2" cy="557.5" rx="3.40" ry="5.60" fill="#5c96d2"/>
<ellipse cx="1066.2" cy="563.0" rx="3.40" ry="5.60" fill="#5c96d2"/>
<ellipse cx="1079.5" cy="563.8" rx="3.40" ry="5.60" fill="#5c96d2"/>
<ellipse cx="1080.0" cy="568.8" rx="3.40" ry="5.60" fill="#5c96d2"/>
<ellipse cx="1060.0" cy="572.5" rx="3.40" ry="5.60" fill="#5c96d2"/>
<ellipse cx="1069.5" cy="578.8" rx="3.40" ry="5.60" fill="#5c96d2"/>
<ellipse cx="1174.5" cy="566.2" rx="3.40" ry="5.60" fill="#5c96d2"/>
<ellipse cx="1174.5" cy="585.0" rx="3.40" ry="5.60" fill="#5c96d2"/>
<ellipse cx="1048.2" cy="582.5" rx="3.40" ry="5.60" fill="#5c96d2"/>
<ellipse cx="796.2" cy="519.5" rx="3.40" ry="5.60" fill="#f7c35a"/>
<ellipse cx="965.0" cy="513.0" rx="3.40" ry="5.60" fill="#f7c35a"/>
<ellipse cx="960.8" cy="550.5" rx="3.40" ry="5.60" fill="#f7c35a"/>
<ellipse cx="965.8" cy="556.2" rx="3.40" ry="5.60" fill="#f7c35a"/>
<ellipse cx="955.5" cy="582.5" rx="3.40" ry="5.60" fill="#f7c35a"/>
<ellipse cx="971.2" cy="593.8" rx="3.40" ry="5.60" fill="#f7c35a"/>
<ellipse cx="783.8" cy="573.2" rx="3.40" ry="5.60" fill="#f7c35a"/>
<ellipse cx="785.8" cy="598.2" rx="3.40" ry="5.60" fill="#f7c35a"/>
<ellipse cx="757.5" cy="592.5" rx="3.40" ry="5.60" fill="#f7c35a"/>
<ellipse cx="757.5" cy="600.0" rx="3.40" ry="5.60" fill="#f7c35a"/>
<ellipse cx="1173.2" cy="571.2" rx="3.40" ry="5.60" fill="#f7c35a"/>
<ellipse cx="974.5" cy="605.0" rx="3.40" ry="5.60" fill="#f7c35a"/>
<ellipse cx="983.2" cy="604.5" rx="3.40" ry="5.60" fill="#f7c35a"/>
<ellipse cx="734.5" cy="547.5" rx="3.40" ry="5.60" fill="#eb5c68"/>
<ellipse cx="708.0" cy="568.0" rx="3.40" ry="5.60" fill="#eb5c68"/>
<ellipse cx="747.5" cy="568.0" rx="3.40" ry="5.60" fill="#eb5c68"/>
<ellipse cx="722.5" cy="580.0" rx="3.40" ry="5.60" fill="#eb5c68"/>
<ellipse cx="731.8" cy="579.5" rx="3.40" ry="5.60" fill="#eb5c68"/>
<ellipse cx="743.8" cy="583.8" rx="3.40" ry="5.60" fill="#eb5c68"/>
<ellipse cx="748.8" cy="583.8" rx="3.40" ry="5.60" fill="#eb5c68"/>
<ellipse cx="717.5" cy="602.5" rx="3.40" ry="5.60" fill="#eb5c68"/>
<ellipse cx="708.8" cy="605.0" rx="3.40" ry="5.60" fill="#eb5c68"/>
<ellipse cx="938.8" cy="550.5" rx="3.40" ry="5.60" fill="#eb5c68"/>
<ellipse cx="953.0" cy="557.0" rx="3.40" ry="5.60" fill="#eb5c68"/>
<ellipse cx="952.0" cy="566.2" rx="3.40" ry="5.60" fill="#eb5c68"/>
<ellipse cx="1124.5" cy="527.5" rx="3.40" ry="5.60" fill="#eb5c68"/>
<ellipse cx="1123.2" cy="552.5" rx="3.40" ry="5.60" fill="#eb5c68"/>
<ellipse cx="1125.0" cy="560.0" rx="3.40" ry="5.60" fill="#eb5c68"/>
<ellipse cx="1134.2" cy="558.8" rx="3.40" ry="5.60" fill="#eb5c68"/>
<ellipse cx="1122.5" cy="571.2" rx="3.40" ry="5.60" fill="#eb5c68"/>
<ellipse cx="1125.0" cy="573.8" rx="3.40" ry="5.60" fill="#eb5c68"/>
<ellipse cx="1158.0" cy="585.0" rx="3.40" ry="5.60" fill="#eb5c68"/>
<ellipse cx="1168.8" cy="603.2" rx="3.40" ry="5.60" fill="#eb5c68"/>
<ellipse cx="937.0" cy="603.2" rx="3.40" ry="5.60" fill="#eb5c68"/>
<ellipse cx="925.0" cy="518.8" rx="3.40" ry="5.60" fill="#c48ccb"/>
<ellipse cx="925.0" cy="528.8" rx="3.40" ry="5.60" fill="#c48ccb"/>
<ellipse cx="925.0" cy="541.2" rx="3.40" ry="5.60" fill="#c48ccb"/>
<ellipse cx="925.0" cy="547.5" rx="3.40" ry="5.60" fill="#c48ccb"/>
<ellipse cx="925.0" cy="556.0" rx="3.40" ry="5.60" fill="#c48ccb"/>
<ellipse cx="925.0" cy="566.2" rx="3.40" ry="5.60" fill="#c48ccb"/>
<ellipse cx="925.0" cy="573.8" rx="3.40" ry="5.60" fill="#c48ccb"/>
<ellipse cx="925.0" cy="582.5" rx="3.40" ry="5.60" fill="#c48ccb"/>
<ellipse cx="925.0" cy="590.0" rx="3.40" ry="5.60" fill="#c48ccb"/>
<ellipse cx="925.0" cy="597.5" rx="3.40" ry="5.60" fill="#c48ccb"/>
<ellipse cx="925.0" cy="602.5" rx="3.40" ry="5.60" fill="#c48ccb"/>
<ellipse cx="1118.0" cy="532.0" rx="3.40" ry="5.60" fill="#c48ccb"/>
<ellipse cx="1083.8" cy="575.0" rx="3.40" ry="5.60" fill="#c48ccb"/>
<ellipse cx="1098.2" cy="589.5" rx="3.40" ry="5.60" fill="#c48ccb"/>
<ellipse cx="1115.5" cy="597.5" rx="3.40" ry="5.60" fill="#c48ccb"/>
<ellipse cx="722.5" cy="580.0" rx="3.40" ry="5.60" fill="#eb5c68"/>
<ellipse cx="732.0" cy="580.0" rx="3.40" ry="5.60" fill="#eb5c68"/>
<ellipse cx="743.8" cy="583.8" rx="3.40" ry="5.60" fill="#eb5c68"/>
<ellipse cx="748.8" cy="583.8" rx="3.40" ry="5.60" fill="#eb5c68"/>
<ellipse cx="757.5" cy="592.5" rx="3.40" ry="5.60" fill="#f7c35a"/>
<ellipse cx="756.2" cy="602.5" rx="3.40" ry="5.60" fill="#f7c35a"/>
<ellipse cx="786.2" cy="598.8" rx="3.40" ry="5.60" fill="#f7c35a"/>
<ellipse cx="793.8" cy="610.0" rx="3.40" ry="5.60" fill="#f7c35a"/>
<ellipse cx="783.8" cy="573.8" rx="3.40" ry="5.60" fill="#f7c35a"/>
<ellipse cx="800.0" cy="592.5" rx="3.40" ry="5.60" fill="#8fc687"/>
<ellipse cx="805.0" cy="607.5" rx="3.40" ry="5.60" fill="#8fc687"/>
<ellipse cx="818.8" cy="582.5" rx="3.40" ry="5.60" fill="#8fc687"/>
<ellipse cx="825.0" cy="590.0" rx="3.40" ry="5.60" fill="#8fc687"/>
<ellipse cx="823.8" cy="600.0" rx="3.40" ry="5.60" fill="#8fc687"/>
<ellipse cx="840.0" cy="592.5" rx="3.40" ry="5.60" fill="#8fc687"/>
<ellipse cx="842.5" cy="587.5" rx="3.40" ry="5.60" fill="#8fc687"/>
<ellipse cx="843.8" cy="611.2" rx="3.40" ry="5.60" fill="#8fc687"/>
<ellipse cx="847.0" cy="606.2" rx="3.40" ry="5.60" fill="#5c96d2"/>
<ellipse cx="857.5" cy="622.5" rx="3.40" ry="5.60" fill="#5c96d2"/>
<ellipse cx="864.5" cy="617.5" rx="3.40" ry="5.60" fill="#5c96d2"/>
<ellipse cx="876.2" cy="608.8" rx="3.40" ry="5.60" fill="#5c96d2"/>
<ellipse cx="882.5" cy="600.0" rx="3.40" ry="5.60" fill="#5c96d2"/>
<ellipse cx="887.0" cy="578.8" rx="3.40" ry="5.60" fill="#5c96d2"/>
<ellipse cx="888.8" cy="596.2" rx="3.40" ry="5.60" fill="#5c96d2"/>
<ellipse cx="937.0" cy="602.0" rx="3.40" ry="5.60" fill="#eb5c68"/>
<ellipse cx="952.5" cy="593.8" rx="3.40" ry="5.60" fill="#eb5c68"/>
<ellipse cx="1135.0" cy="610.0" rx="3.40" ry="5.60" fill="#eb5c68"/>
<ellipse cx="1144.5" cy="623.8" rx="3.40" ry="5.60" fill="#eb5c68"/>
<ellipse cx="1158.0" cy="585.0" rx="3.40" ry="5.60" fill="#eb5c68"/>
<ellipse cx="1168.8" cy="602.0" rx="3.40" ry="5.60" fill="#eb5c68"/>
<ellipse cx="1161.2" cy="620.0" rx="3.40" ry="5.60" fill="#eb5c68"/>
<ellipse cx="955.5" cy="582.0" rx="3.40" ry="5.60" fill="#f7c35a"/>
<ellipse cx="971.2" cy="593.8" rx="3.40" ry="5.60" fill="#f7c35a"/>
<ellipse cx="975.0" cy="603.8" rx="3.40" ry="5.60" fill="#f7c35a"/>
<ellipse cx="983.2" cy="603.8" rx="3.40" ry="5.60" fill="#f7c35a"/>
<ellipse cx="988.8" cy="612.5" rx="3.40" ry="5.60" fill="#f7c35a"/>
<ellipse cx="995.8" cy="580.5" rx="3.40" ry="5.60" fill="#8fc687"/>
<ellipse cx="1000.0" cy="610.0" rx="3.40" ry="5.60" fill="#8fc687"/>
<ellipse cx="1030.0" cy="595.0" rx="3.40" ry="5.60" fill="#8fc687"/>
<ellipse cx="1029.5" cy="613.8" rx="3.40" ry="5.60" fill="#8fc687"/>
<ellipse cx="1036.2" cy="612.5" rx="3.40" ry="5.60" fill="#8fc687"/>
<ellipse cx="1045.0" cy="586.2" rx="3.40" ry="5.60" fill="#8fc687"/>
<ellipse cx="1048.8" cy="581.2" rx="3.40" ry="5.60" fill="#5c96d2"/>
<ellipse cx="1060.0" cy="572.5" rx="3.40" ry="5.60" fill="#5c96d2"/>
<ellipse cx="1070.0" cy="578.8" rx="3.40" ry="5.60" fill="#5c96d2"/>
<ellipse cx="1068.2" cy="605.0" rx="3.40" ry="5.60" fill="#5c96d2"/>
<ellipse cx="1070.0" cy="632.5" rx="3.40" ry="5.60" fill="#5c96d2"/>
<ellipse cx="1079.5" cy="592.5" rx="3.40" ry="5.60" fill="#5c96d2"/>
<ellipse cx="1050.0" cy="593.8" rx="3.40" ry="5.60" fill="#5c96d2"/>
<ellipse cx="1174.5" cy="585.0" rx="3.40" ry="5.60" fill="#5c96d2"/>
<ellipse cx="1083.8" cy="575.0" rx="3.40" ry="5.60" fill="#c48ccb"/>
<ellipse cx="1098.2" cy="588.8" rx="3.40" ry="5.60" fill="#c48ccb"/>
<ellipse cx="1098.2" cy="610.0" rx="3.40" ry="5.60" fill="#c48ccb"/>
<ellipse cx="1108.8" cy="611.2" rx="3.40" ry="5.60" fill="#c48ccb"/>
<ellipse cx="1113.8" cy="622.5" rx="3.40" ry="5.60" fill="#c48ccb"/>
<ellipse cx="1115.5" cy="596.2" rx="3.40" ry="5.60" fill="#c48ccb"/>
<line x1="684.0" y1="501.40" x2="1194.0" y2="501.40" stroke="#7092b5" stroke-width="1.3"/>
<path d="M686.50 480.25H1194.60M686.50 754.30H1194.60" stroke="#8c8c8c" stroke-width="1.80" fill="none"/>
<path d="M687.10 480.25V754.30M1194.00 480.25V754.30" stroke="#a6a6a6" stroke-width="1.30" fill="none"/>
<text x="941.3" y="456.5" font-size="28.0" font-weight="bold" text-anchor="middle" textLength="175.5" lengthAdjust="spacingAndGlyphs" fill="#0d0d0d">MLM.GREENHOUSE</text>
<text transform="translate(732.5,779.0) scale(0.630,1)" font-size="17.5" text-anchor="middle" fill="#262626" stroke="#262626" stroke-width="0.45">1</text>
<text transform="translate(780.0,779.0) scale(0.630,1)" font-size="17.5" text-anchor="middle" fill="#262626" stroke="#262626" stroke-width="0.45">2</text>
<text transform="translate(821.5,779.0) scale(0.630,1)" font-size="17.5" text-anchor="middle" fill="#262626" stroke="#262626" stroke-width="0.45">3</text>
<text transform="translate(866.0,779.0) scale(0.630,1)" font-size="17.5" text-anchor="middle" fill="#262626" stroke="#262626" stroke-width="0.45">4</text>
<text transform="translate(907.5,779.0) scale(0.630,1)" font-size="17.5" text-anchor="middle" fill="#262626" stroke="#262626" stroke-width="0.45">5</text>
<text transform="translate(945.0,779.0) scale(0.630,1)" font-size="17.5" text-anchor="middle" fill="#262626" stroke="#262626" stroke-width="0.45">6</text>
<text transform="translate(971.5,779.0) scale(0.630,1)" font-size="17.5" text-anchor="middle" fill="#262626" stroke="#262626" stroke-width="0.45">7</text>
<text transform="translate(1020.0,779.0) scale(0.630,1)" font-size="17.5" text-anchor="middle" fill="#262626" stroke="#262626" stroke-width="0.45">8</text>
<text transform="translate(1067.9,779.0) scale(0.630,1)" font-size="17.5" text-anchor="middle" fill="#262626" stroke="#262626" stroke-width="0.45">9</text>
<text transform="translate(1103.0,779.0) scale(0.630,1)" font-size="17.5" text-anchor="middle" fill="#262626" stroke="#262626" stroke-width="0.45">10</text>
<text transform="translate(1144.4,779.0) scale(0.630,1)" font-size="17.5" text-anchor="middle" fill="#262626" stroke="#262626" stroke-width="0.45">11</text>
<text transform="translate(1171.2,779.0) scale(0.630,1)" font-size="17.5" text-anchor="middle" fill="#262626" stroke="#262626" stroke-width="0.45">13</text>
<text transform="translate(677.0,501.4) scale(0.750,1) rotate(-90)" font-size="15.0" text-anchor="middle" fill="#262626" stroke="#262626" stroke-width="0.45">3</text>
<text transform="translate(677.0,582.5) scale(0.750,1) rotate(-90)" font-size="15.0" text-anchor="middle" fill="#262626" stroke="#262626" stroke-width="0.45">2</text>
<text transform="translate(677.0,663.5) scale(0.750,1) rotate(-90)" font-size="15.0" text-anchor="middle" fill="#262626" stroke="#262626" stroke-width="0.45">1</text>
<text transform="translate(657.3,618.5) scale(0.730,1) rotate(-90)" font-size="23.7" text-anchor="middle" fill="#262626" stroke="#262626" stroke-width="0.3">− log<tspan font-size="15.6" dy="2.8">10</tspan><tspan dy="-2.8">( </tspan><tspan font-style="italic">p</tspan> )</text>
</svg></body></html>
